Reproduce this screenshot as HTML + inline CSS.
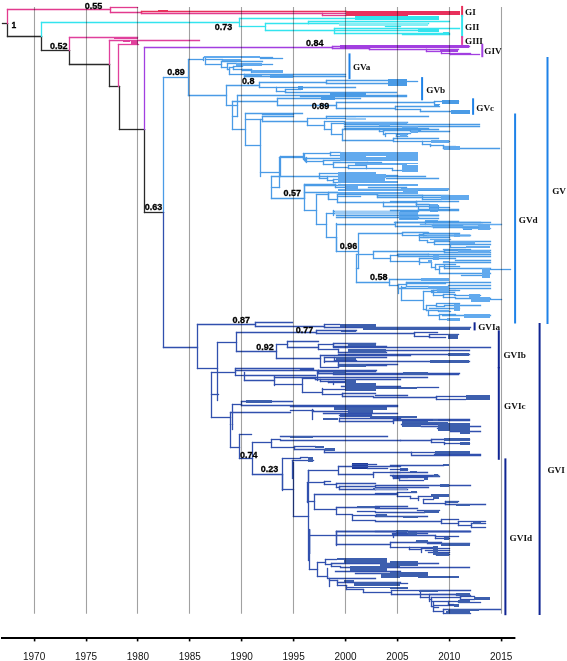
<!DOCTYPE html>
<html><head><meta charset="utf-8"><style>html,body{margin:0;padding:0;background:#fff;width:567px;height:661px;overflow:hidden}svg{display:block}</style></head>
<body><svg width="567" height="661" viewBox="0 0 567 661"><rect x="1" y="637" width="514.4" height="2" fill="#000"/>
<rect x="33.8" y="639" width="1.6" height="2.4" fill="#000"/>
<rect x="85.8" y="639" width="1.6" height="2.4" fill="#000"/>
<rect x="136.8" y="639" width="1.6" height="2.4" fill="#000"/>
<rect x="188.8" y="639" width="1.6" height="2.4" fill="#000"/>
<rect x="240.8" y="639" width="1.6" height="2.4" fill="#000"/>
<rect x="292.8" y="639" width="1.6" height="2.4" fill="#000"/>
<rect x="344.8" y="639" width="1.6" height="2.4" fill="#000"/>
<rect x="396.8" y="639" width="1.6" height="2.4" fill="#000"/>
<rect x="448.8" y="639" width="1.6" height="2.4" fill="#000"/>
<rect x="500.8" y="639" width="1.6" height="2.4" fill="#000"/>
<line x1="2.5" y1="23.5" x2="7.5" y2="23.5" stroke="#2a2a2a" stroke-width="1.3" stroke-linecap="square"/>
<line x1="7.5" y1="23.5" x2="7.5" y2="36.5" stroke="#2a2a2a" stroke-width="1.3" stroke-linecap="square"/>
<line x1="7.5" y1="36.5" x2="41.5" y2="36.5" stroke="#2a2a2a" stroke-width="1.3" stroke-linecap="square"/>
<line x1="41.5" y1="36.5" x2="41.5" y2="50.5" stroke="#2a2a2a" stroke-width="1.3" stroke-linecap="square"/>
<line x1="41.5" y1="50.5" x2="69.5" y2="50.5" stroke="#2a2a2a" stroke-width="1.3" stroke-linecap="square"/>
<line x1="69.5" y1="50.5" x2="69.5" y2="64.5" stroke="#2a2a2a" stroke-width="1.3" stroke-linecap="square"/>
<line x1="69.5" y1="64.5" x2="109.5" y2="64.5" stroke="#2a2a2a" stroke-width="1.3" stroke-linecap="square"/>
<line x1="109.5" y1="64.5" x2="109.5" y2="86.5" stroke="#2a2a2a" stroke-width="1.3" stroke-linecap="square"/>
<line x1="109.5" y1="86.5" x2="119.5" y2="86.5" stroke="#2a2a2a" stroke-width="1.3" stroke-linecap="square"/>
<line x1="119.5" y1="86.5" x2="119.5" y2="129.5" stroke="#2a2a2a" stroke-width="1.3" stroke-linecap="square"/>
<line x1="119.5" y1="129.5" x2="144.5" y2="129.5" stroke="#2a2a2a" stroke-width="1.3" stroke-linecap="square"/>
<line x1="144.5" y1="129.5" x2="144.5" y2="212.5" stroke="#2a2a2a" stroke-width="1.3" stroke-linecap="square"/>
<line x1="144.5" y1="212.5" x2="163.5" y2="212.5" stroke="#2a2a2a" stroke-width="1.3" stroke-linecap="square"/>
<line x1="7.5" y1="9.5" x2="7.5" y2="23.5" stroke="#e23b8e" stroke-width="1.3" stroke-linecap="square"/>
<line x1="7.5" y1="9.5" x2="110.5" y2="9.5" stroke="#e23b8e" stroke-width="1.3" stroke-linecap="square"/>
<line x1="110.5" y1="7.5" x2="110.5" y2="12.5" stroke="#e23b8e" stroke-width="1.3" stroke-linecap="square"/>
<line x1="110.5" y1="7.5" x2="137.5" y2="7.5" stroke="#e23b8e" stroke-width="1.3" stroke-linecap="square"/>
<line x1="110.5" y1="12.5" x2="141.5" y2="12.5" stroke="#e23b8e" stroke-width="1.3" stroke-linecap="square"/>
<rect x="121" y="7" width="6" height="1" fill="#e23b8e"/>
<line x1="141.5" y1="11.5" x2="141.5" y2="13.5" stroke="#e8305c" stroke-width="1.3" stroke-linecap="square"/>
<line x1="141.5" y1="11.5" x2="346.5" y2="11.5" stroke="#e8305c" stroke-width="1.3" stroke-linecap="square"/>
<rect x="158" y="10" width="10" height="2" fill="#e8305c"/>
<line x1="141.5" y1="13.5" x2="322.5" y2="13.5" stroke="#e23b8e" stroke-width="1.3" stroke-linecap="square"/>
<line x1="322.5" y1="13.5" x2="322.5" y2="15.5" stroke="#e23b8e" stroke-width="1.3" stroke-linecap="square"/>
<line x1="322.5" y1="13.5" x2="346.5" y2="13.5" stroke="#e23b8e" stroke-width="1.3" stroke-linecap="square"/>
<line x1="322.5" y1="15.5" x2="346.5" y2="15.5" stroke="#e23b8e" stroke-width="1.3" stroke-linecap="square"/>
<rect x="346" y="11" width="114" height="4" fill="#e8305c"/>
<rect x="346" y="15" width="62" height="1" fill="#e8305c"/>
<line x1="41.5" y1="22.5" x2="41.5" y2="36.5" stroke="#33e4ee" stroke-width="1.3" stroke-linecap="square"/>
<line x1="41.5" y1="22.5" x2="239.5" y2="22.5" stroke="#33e4ee" stroke-width="1.3" stroke-linecap="square"/>
<line x1="239.5" y1="18.5" x2="239.5" y2="26.5" stroke="#33e4ee" stroke-width="1.3" stroke-linecap="square"/>
<line x1="239.5" y1="18.5" x2="372.5" y2="18.5" stroke="#33e4ee" stroke-width="1.3" stroke-linecap="square"/>
<line x1="239.5" y1="26.5" x2="265.5" y2="26.5" stroke="#33e4ee" stroke-width="1.3" stroke-linecap="square"/>
<line x1="265.5" y1="23.5" x2="265.5" y2="30.5" stroke="#33e4ee" stroke-width="1.3" stroke-linecap="square"/>
<line x1="265.5" y1="23.5" x2="308.5" y2="23.5" stroke="#33e4ee" stroke-width="1.3" stroke-linecap="square"/>
<line x1="308.5" y1="21.5" x2="308.5" y2="23.5" stroke="#33e4ee" stroke-width="1.3" stroke-linecap="square"/>
<line x1="308.5" y1="21.5" x2="449.5" y2="21.5" stroke="#33e4ee" stroke-width="1.3" stroke-linecap="square"/>
<line x1="308.5" y1="23.5" x2="428.5" y2="23.5" stroke="#33e4ee" stroke-width="1.3" stroke-linecap="square"/>
<line x1="265.5" y1="30.5" x2="334.5" y2="30.5" stroke="#33e4ee" stroke-width="1.3" stroke-linecap="square"/>
<line x1="334.5" y1="28.5" x2="334.5" y2="33.5" stroke="#33e4ee" stroke-width="1.3" stroke-linecap="square"/>
<line x1="334.5" y1="28.5" x2="459.5" y2="28.5" stroke="#33e4ee" stroke-width="1.3" stroke-linecap="square"/>
<line x1="334.5" y1="30.5" x2="417.5" y2="30.5" stroke="#33e4ee" stroke-width="1.3" stroke-linecap="square"/>
<line x1="334.5" y1="33.5" x2="449.5" y2="33.5" stroke="#33e4ee" stroke-width="1.3" stroke-linecap="square"/>
<rect x="355" y="16" width="84" height="4" fill="#33e4ee"/>
<rect x="418" y="29" width="21" height="3" fill="#33e4ee"/>
<rect x="443" y="32" width="6" height="3" fill="#33e4ee"/>
<line x1="402.5" y1="34.5" x2="449.5" y2="34.5" stroke="#33e4ee" stroke-width="1.3" stroke-linecap="square"/>
<line x1="385.5" y1="26.5" x2="400.5" y2="26.5" stroke="#33e4ee" stroke-width="1.3" stroke-linecap="square"/>
<rect x="339" y="23" width="89" height="3" fill="#86eef4"/>
<line x1="69.5" y1="37.5" x2="69.5" y2="50.5" stroke="#e0409c" stroke-width="1.3" stroke-linecap="square"/>
<line x1="69.5" y1="37.5" x2="137.5" y2="37.5" stroke="#e0409c" stroke-width="1.3" stroke-linecap="square"/>
<rect x="114" y="37" width="24" height="2" fill="#e0409c"/>
<line x1="109.5" y1="40.5" x2="109.5" y2="64.5" stroke="#e0409c" stroke-width="1.3" stroke-linecap="square"/>
<line x1="109.5" y1="40.5" x2="199.5" y2="40.5" stroke="#e0409c" stroke-width="1.3" stroke-linecap="square"/>
<rect x="123" y="40" width="7" height="2" fill="#e0409c"/>
<rect x="131" y="40" width="7" height="4" fill="#e0409c"/>
<line x1="118.5" y1="44.5" x2="118.5" y2="86.5" stroke="#e0409c" stroke-width="1.3" stroke-linecap="square"/>
<line x1="118.5" y1="44.5" x2="138.5" y2="44.5" stroke="#e0409c" stroke-width="1.3" stroke-linecap="square"/>
<line x1="144.5" y1="47.5" x2="144.5" y2="129.5" stroke="#a23fe0" stroke-width="1.3" stroke-linecap="square"/>
<line x1="144.5" y1="47.5" x2="332.5" y2="47.5" stroke="#a23fe0" stroke-width="1.3" stroke-linecap="square"/>
<line x1="332.5" y1="46.5" x2="332.5" y2="48.5" stroke="#a23fe0" stroke-width="1.3" stroke-linecap="square"/>
<line x1="332.5" y1="46.5" x2="469.5" y2="46.5" stroke="#a23fe0" stroke-width="1.3" stroke-linecap="square"/>
<line x1="332.5" y1="48.5" x2="369.5" y2="48.5" stroke="#a23fe0" stroke-width="1.3" stroke-linecap="square"/>
<rect x="340" y="45" width="129" height="3" fill="#a23fe0"/>
<line x1="369.5" y1="48.5" x2="369.5" y2="49.5" stroke="#a23fe0" stroke-width="1.3" stroke-linecap="square"/>
<line x1="369.5" y1="49.5" x2="426.5" y2="49.5" stroke="#a23fe0" stroke-width="1.3" stroke-linecap="square"/>
<line x1="426.5" y1="49.5" x2="426.5" y2="51.5" stroke="#a23fe0" stroke-width="1.3" stroke-linecap="square"/>
<line x1="426.5" y1="49.5" x2="458.5" y2="49.5" stroke="#a23fe0" stroke-width="1.3" stroke-linecap="square"/>
<line x1="426.5" y1="51.5" x2="441.5" y2="51.5" stroke="#a23fe0" stroke-width="1.3" stroke-linecap="square"/>
<rect x="440" y="49" width="18" height="3" fill="#a23fe0"/>
<line x1="441.5" y1="51.5" x2="441.5" y2="53.5" stroke="#a23fe0" stroke-width="1.3" stroke-linecap="square"/>
<line x1="441.5" y1="53.5" x2="450.5" y2="53.5" stroke="#a23fe0" stroke-width="1.3" stroke-linecap="square"/>
<line x1="450.5" y1="53.5" x2="450.5" y2="54.5" stroke="#a23fe0" stroke-width="1.3" stroke-linecap="square"/>
<line x1="450.5" y1="53.5" x2="470.5" y2="53.5" stroke="#a23fe0" stroke-width="1.3" stroke-linecap="square"/>
<line x1="450.5" y1="54.5" x2="479.5" y2="54.5" stroke="#a23fe0" stroke-width="1.3" stroke-linecap="square"/>
<rect x="451" y="54" width="29" height="1" fill="#a23fe0"/>
<line x1="462.1" y1="6.9" x2="462.1" y2="15.9" stroke="#e8305c" stroke-width="2.0" stroke-linecap="square"/>
<line x1="462.1" y1="15.9" x2="462.1" y2="37.0" stroke="#33e4ee" stroke-width="2.0" stroke-linecap="square"/>
<line x1="462.1" y1="37.0" x2="462.1" y2="43.9" stroke="#e0409c" stroke-width="2.0" stroke-linecap="square"/>
<line x1="482.3" y1="44.8" x2="482.3" y2="56.2" stroke="#a23fe0" stroke-width="2.0" stroke-linecap="square"/>
<line x1="349.5" y1="54.4" x2="349.5" y2="78.1" stroke="#1e82e8" stroke-width="2.0" stroke-linecap="square"/>
<line x1="422.1" y1="78.1" x2="422.1" y2="99.3" stroke="#1e82e8" stroke-width="2.0" stroke-linecap="square"/>
<line x1="473.1" y1="99.3" x2="473.1" y2="113.8" stroke="#1e82e8" stroke-width="2.0" stroke-linecap="square"/>
<line x1="515.1" y1="114.5" x2="515.1" y2="322.5" stroke="#1e82e8" stroke-width="2.0" stroke-linecap="square"/>
<line x1="547.5" y1="58.1" x2="547.5" y2="323.0" stroke="#1e82e8" stroke-width="2.0" stroke-linecap="square"/>
<line x1="474.6" y1="323.3" x2="474.6" y2="329.4" stroke="#102593" stroke-width="2.0" stroke-linecap="square"/>
<line x1="498.8" y1="331.3" x2="498.8" y2="367.3" stroke="#102593" stroke-width="2.0" stroke-linecap="square"/>
<line x1="498.8" y1="368.0" x2="498.8" y2="458.8" stroke="#102593" stroke-width="2.0" stroke-linecap="square"/>
<line x1="505.4" y1="459.4" x2="505.4" y2="614.2" stroke="#102593" stroke-width="2.0" stroke-linecap="square"/>
<line x1="539.6" y1="324.0" x2="539.6" y2="614.0" stroke="#102593" stroke-width="2.0" stroke-linecap="square"/>
<line x1="163.5" y1="77.5" x2="163.5" y2="212.5" stroke="#4a9be6" stroke-width="1.3" stroke-linecap="square"/>
<line x1="163.5" y1="77.5" x2="188.5" y2="77.5" stroke="#4a9be6" stroke-width="1.3" stroke-linecap="square"/>
<line x1="188.5" y1="59.5" x2="188.5" y2="95.5" stroke="#4a9be6" stroke-width="1.3" stroke-linecap="square"/>
<line x1="188.5" y1="59.5" x2="203.5" y2="59.5" stroke="#4a9be6" stroke-width="1.3" stroke-linecap="square"/>
<line x1="203.5" y1="57.5" x2="203.5" y2="60.5" stroke="#4a9be6" stroke-width="1.3" stroke-linecap="square"/>
<rect x="204" y="56" width="56" height="2" fill="#62aaee"/>
<rect x="222" y="59" width="19" height="2" fill="#62aaee"/>
<line x1="260.5" y1="57.5" x2="272.5" y2="57.5" stroke="#4a9be6" stroke-width="1.3" stroke-linecap="square"/>
<line x1="260.5" y1="58.5" x2="282.5" y2="58.5" stroke="#4a9be6" stroke-width="1.3" stroke-linecap="square"/>
<line x1="205.5" y1="58.5" x2="205.5" y2="64.5" stroke="#4a9be6" stroke-width="1.3" stroke-linecap="square"/>
<line x1="205.5" y1="59.5" x2="222.5" y2="59.5" stroke="#4a9be6" stroke-width="1.3" stroke-linecap="square"/>
<line x1="205.5" y1="64.5" x2="221.5" y2="64.5" stroke="#4a9be6" stroke-width="1.3" stroke-linecap="square"/>
<line x1="221.5" y1="61.5" x2="221.5" y2="67.5" stroke="#4a9be6" stroke-width="1.3" stroke-linecap="square"/>
<line x1="221.5" y1="61.5" x2="262.5" y2="61.5" stroke="#4a9be6" stroke-width="1.3" stroke-linecap="square"/>
<line x1="221.5" y1="67.5" x2="227.5" y2="67.5" stroke="#4a9be6" stroke-width="1.3" stroke-linecap="square"/>
<line x1="227.5" y1="63.5" x2="227.5" y2="69.5" stroke="#4a9be6" stroke-width="1.3" stroke-linecap="square"/>
<line x1="227.5" y1="63.5" x2="236.5" y2="63.5" stroke="#4a9be6" stroke-width="1.3" stroke-linecap="square"/>
<rect x="236" y="63" width="26" height="3" fill="#62aaee"/>
<line x1="262.5" y1="64.5" x2="272.5" y2="64.5" stroke="#4a9be6" stroke-width="1.3" stroke-linecap="square"/>
<line x1="227.5" y1="69.5" x2="229.5" y2="69.5" stroke="#4a9be6" stroke-width="1.3" stroke-linecap="square"/>
<line x1="229.5" y1="67.5" x2="229.5" y2="74.5" stroke="#4a9be6" stroke-width="1.3" stroke-linecap="square"/>
<line x1="229.5" y1="67.5" x2="233.5" y2="67.5" stroke="#4a9be6" stroke-width="1.3" stroke-linecap="square"/>
<line x1="233.5" y1="66.5" x2="233.5" y2="69.5" stroke="#4a9be6" stroke-width="1.3" stroke-linecap="square"/>
<line x1="233.5" y1="66.5" x2="242.5" y2="66.5" stroke="#4a9be6" stroke-width="1.3" stroke-linecap="square"/>
<line x1="233.5" y1="69.5" x2="242.5" y2="69.5" stroke="#4a9be6" stroke-width="1.3" stroke-linecap="square"/>
<line x1="242.5" y1="69.5" x2="242.5" y2="70.5" stroke="#4a9be6" stroke-width="1.3" stroke-linecap="square"/>
<line x1="242.5" y1="69.5" x2="251.5" y2="69.5" stroke="#4a9be6" stroke-width="1.3" stroke-linecap="square"/>
<line x1="242.5" y1="70.5" x2="251.5" y2="70.5" stroke="#4a9be6" stroke-width="1.3" stroke-linecap="square"/>
<line x1="251.5" y1="69.5" x2="251.5" y2="72.5" stroke="#4a9be6" stroke-width="1.3" stroke-linecap="square"/>
<rect x="252" y="70" width="31" height="3" fill="#62aaee"/>
<line x1="229.5" y1="74.5" x2="244.5" y2="74.5" stroke="#4a9be6" stroke-width="1.3" stroke-linecap="square"/>
<line x1="244.5" y1="74.5" x2="244.5" y2="77.5" stroke="#4a9be6" stroke-width="1.3" stroke-linecap="square"/>
<rect x="270" y="75" width="23" height="3" fill="#62aaee"/>
<rect x="244" y="75" width="18" height="1" fill="#62aaee"/>
<line x1="244.5" y1="74.5" x2="345.5" y2="74.5" stroke="#4a9be6" stroke-width="1.3" stroke-linecap="square"/>
<line x1="244.5" y1="76.5" x2="345.5" y2="76.5" stroke="#4a9be6" stroke-width="1.3" stroke-linecap="square"/>
<line x1="188.5" y1="95.5" x2="226.5" y2="95.5" stroke="#4a9be6" stroke-width="1.3" stroke-linecap="square"/>
<line x1="226.5" y1="85.5" x2="226.5" y2="105.5" stroke="#4a9be6" stroke-width="1.3" stroke-linecap="square"/>
<line x1="226.5" y1="85.5" x2="259.5" y2="85.5" stroke="#4a9be6" stroke-width="1.3" stroke-linecap="square"/>
<line x1="259.5" y1="82.5" x2="259.5" y2="87.5" stroke="#4a9be6" stroke-width="1.3" stroke-linecap="square"/>
<line x1="259.5" y1="82.5" x2="326.5" y2="82.5" stroke="#4a9be6" stroke-width="1.3" stroke-linecap="square"/>
<line x1="326.5" y1="80.5" x2="326.5" y2="83.5" stroke="#4a9be6" stroke-width="1.3" stroke-linecap="square"/>
<line x1="326.5" y1="80.5" x2="387.5" y2="80.5" stroke="#4a9be6" stroke-width="1.3" stroke-linecap="square"/>
<line x1="326.5" y1="83.5" x2="387.5" y2="83.5" stroke="#4a9be6" stroke-width="1.3" stroke-linecap="square"/>
<rect x="388" y="79" width="19" height="7" fill="#4a9be6"/>
<line x1="407.5" y1="81.5" x2="417.5" y2="81.5" stroke="#4a9be6" stroke-width="1.3" stroke-linecap="square"/>
<line x1="259.5" y1="87.5" x2="276.5" y2="87.5" stroke="#4a9be6" stroke-width="1.3" stroke-linecap="square"/>
<line x1="276.5" y1="87.5" x2="276.5" y2="91.5" stroke="#4a9be6" stroke-width="1.3" stroke-linecap="square"/>
<line x1="276.5" y1="87.5" x2="297.5" y2="87.5" stroke="#4a9be6" stroke-width="1.3" stroke-linecap="square"/>
<rect x="298" y="86" width="5" height="4" fill="#4a9be6"/>
<line x1="303.5" y1="87.5" x2="355.5" y2="87.5" stroke="#4a9be6" stroke-width="1.3" stroke-linecap="square"/>
<line x1="276.5" y1="91.5" x2="285.5" y2="91.5" stroke="#4a9be6" stroke-width="1.3" stroke-linecap="square"/>
<line x1="285.5" y1="89.5" x2="285.5" y2="92.5" stroke="#4a9be6" stroke-width="1.3" stroke-linecap="square"/>
<line x1="285.5" y1="89.5" x2="300.5" y2="89.5" stroke="#4a9be6" stroke-width="1.3" stroke-linecap="square"/>
<line x1="285.5" y1="92.5" x2="396.5" y2="92.5" stroke="#4a9be6" stroke-width="1.3" stroke-linecap="square"/>
<rect x="330" y="92" width="36" height="5" fill="#4a9be6"/>
<line x1="300.5" y1="96.5" x2="406.5" y2="96.5" stroke="#4a9be6" stroke-width="1.3" stroke-linecap="square"/>
<line x1="232.5" y1="101.5" x2="232.5" y2="129.5" stroke="#4a9be6" stroke-width="1.3" stroke-linecap="square"/>
<line x1="237.5" y1="95.5" x2="237.5" y2="116.5" stroke="#4a9be6" stroke-width="1.3" stroke-linecap="square"/>
<line x1="232.5" y1="116.5" x2="237.5" y2="116.5" stroke="#4a9be6" stroke-width="1.3" stroke-linecap="square"/>
<line x1="226.5" y1="105.5" x2="237.5" y2="105.5" stroke="#4a9be6" stroke-width="1.3" stroke-linecap="square"/>
<line x1="237.5" y1="95.5" x2="406.5" y2="95.5" stroke="#4a9be6" stroke-width="1.3" stroke-linecap="square"/>
<line x1="232.5" y1="101.5" x2="277.5" y2="101.5" stroke="#4a9be6" stroke-width="1.3" stroke-linecap="square"/>
<line x1="277.5" y1="98.5" x2="277.5" y2="105.5" stroke="#4a9be6" stroke-width="1.3" stroke-linecap="square"/>
<line x1="277.5" y1="98.5" x2="360.5" y2="98.5" stroke="#4a9be6" stroke-width="1.3" stroke-linecap="square"/>
<rect x="321" y="97" width="14" height="3" fill="#4a9be6"/>
<line x1="277.5" y1="105.5" x2="336.5" y2="105.5" stroke="#4a9be6" stroke-width="1.3" stroke-linecap="square"/>
<line x1="336.5" y1="102.5" x2="336.5" y2="108.5" stroke="#4a9be6" stroke-width="1.3" stroke-linecap="square"/>
<line x1="336.5" y1="102.5" x2="434.5" y2="102.5" stroke="#4a9be6" stroke-width="1.3" stroke-linecap="square"/>
<line x1="434.5" y1="101.5" x2="434.5" y2="104.5" stroke="#4a9be6" stroke-width="1.3" stroke-linecap="square"/>
<line x1="434.5" y1="101.5" x2="458.5" y2="101.5" stroke="#4a9be6" stroke-width="1.3" stroke-linecap="square"/>
<rect x="442" y="100" width="17" height="4" fill="#4a9be6"/>
<rect x="434" y="104" width="6" height="1" fill="#4a9be6"/>
<line x1="336.5" y1="108.5" x2="395.5" y2="108.5" stroke="#4a9be6" stroke-width="1.3" stroke-linecap="square"/>
<line x1="395.5" y1="106.5" x2="395.5" y2="109.5" stroke="#4a9be6" stroke-width="1.3" stroke-linecap="square"/>
<line x1="395.5" y1="106.5" x2="439.5" y2="106.5" stroke="#4a9be6" stroke-width="1.3" stroke-linecap="square"/>
<rect x="434" y="105" width="5" height="2" fill="#4a9be6"/>
<line x1="395.5" y1="109.5" x2="420.5" y2="109.5" stroke="#4a9be6" stroke-width="1.3" stroke-linecap="square"/>
<line x1="420.5" y1="109.5" x2="420.5" y2="111.5" stroke="#4a9be6" stroke-width="1.3" stroke-linecap="square"/>
<line x1="420.5" y1="111.5" x2="451.5" y2="111.5" stroke="#4a9be6" stroke-width="1.3" stroke-linecap="square"/>
<rect x="451" y="110" width="19" height="4" fill="#4a9be6"/>
<line x1="232.5" y1="129.5" x2="245.5" y2="129.5" stroke="#4a9be6" stroke-width="1.3" stroke-linecap="square"/>
<line x1="245.5" y1="113.5" x2="245.5" y2="145.5" stroke="#4a9be6" stroke-width="1.3" stroke-linecap="square"/>
<line x1="245.5" y1="113.5" x2="302.5" y2="113.5" stroke="#4a9be6" stroke-width="1.3" stroke-linecap="square"/>
<line x1="262.5" y1="114.5" x2="293.5" y2="114.5" stroke="#4a9be6" stroke-width="1.3" stroke-linecap="square"/>
<line x1="262.5" y1="116.5" x2="262.5" y2="121.5" stroke="#4a9be6" stroke-width="1.3" stroke-linecap="square"/>
<line x1="262.5" y1="116.5" x2="293.5" y2="116.5" stroke="#4a9be6" stroke-width="1.3" stroke-linecap="square"/>
<line x1="245.5" y1="119.5" x2="262.5" y2="119.5" stroke="#4a9be6" stroke-width="1.3" stroke-linecap="square"/>
<line x1="262.5" y1="121.5" x2="307.5" y2="121.5" stroke="#4a9be6" stroke-width="1.3" stroke-linecap="square"/>
<line x1="307.5" y1="118.5" x2="307.5" y2="125.5" stroke="#4a9be6" stroke-width="1.3" stroke-linecap="square"/>
<line x1="307.5" y1="118.5" x2="326.5" y2="118.5" stroke="#4a9be6" stroke-width="1.3" stroke-linecap="square"/>
<line x1="326.5" y1="116.5" x2="326.5" y2="118.5" stroke="#4a9be6" stroke-width="1.3" stroke-linecap="square"/>
<line x1="326.5" y1="116.5" x2="428.5" y2="116.5" stroke="#4a9be6" stroke-width="1.3" stroke-linecap="square"/>
<line x1="326.5" y1="118.5" x2="355.5" y2="118.5" stroke="#4a9be6" stroke-width="1.3" stroke-linecap="square"/>
<line x1="307.5" y1="125.5" x2="324.5" y2="125.5" stroke="#4a9be6" stroke-width="1.3" stroke-linecap="square"/>
<line x1="324.5" y1="121.5" x2="324.5" y2="129.5" stroke="#4a9be6" stroke-width="1.3" stroke-linecap="square"/>
<line x1="324.5" y1="121.5" x2="344.5" y2="121.5" stroke="#4a9be6" stroke-width="1.3" stroke-linecap="square"/>
<line x1="344.5" y1="122.5" x2="407.5" y2="122.5" stroke="#4a9be6" stroke-width="1.3" stroke-linecap="square"/>
<line x1="344.5" y1="124.5" x2="479.5" y2="124.5" stroke="#4a9be6" stroke-width="1.3" stroke-linecap="square"/>
<line x1="324.5" y1="129.5" x2="331.5" y2="129.5" stroke="#4a9be6" stroke-width="1.3" stroke-linecap="square"/>
<line x1="331.5" y1="123.5" x2="331.5" y2="134.5" stroke="#4a9be6" stroke-width="1.3" stroke-linecap="square"/>
<line x1="331.5" y1="123.5" x2="344.5" y2="123.5" stroke="#4a9be6" stroke-width="1.3" stroke-linecap="square"/>
<line x1="344.5" y1="126.5" x2="479.5" y2="126.5" stroke="#4a9be6" stroke-width="1.3" stroke-linecap="square"/>
<line x1="344.5" y1="128.5" x2="428.5" y2="128.5" stroke="#4a9be6" stroke-width="1.3" stroke-linecap="square"/>
<line x1="331.5" y1="134.5" x2="342.5" y2="134.5" stroke="#4a9be6" stroke-width="1.3" stroke-linecap="square"/>
<line x1="342.5" y1="129.5" x2="342.5" y2="140.5" stroke="#4a9be6" stroke-width="1.3" stroke-linecap="square"/>
<line x1="342.5" y1="129.5" x2="379.5" y2="129.5" stroke="#4a9be6" stroke-width="1.3" stroke-linecap="square"/>
<line x1="379.5" y1="128.5" x2="379.5" y2="131.5" stroke="#4a9be6" stroke-width="1.3" stroke-linecap="square"/>
<line x1="379.5" y1="129.5" x2="438.5" y2="129.5" stroke="#4a9be6" stroke-width="1.3" stroke-linecap="square"/>
<line x1="379.5" y1="131.5" x2="383.5" y2="131.5" stroke="#4a9be6" stroke-width="1.3" stroke-linecap="square"/>
<line x1="383.5" y1="130.5" x2="383.5" y2="134.5" stroke="#4a9be6" stroke-width="1.3" stroke-linecap="square"/>
<line x1="383.5" y1="130.5" x2="420.5" y2="130.5" stroke="#4a9be6" stroke-width="1.3" stroke-linecap="square"/>
<line x1="383.5" y1="134.5" x2="385.5" y2="134.5" stroke="#4a9be6" stroke-width="1.3" stroke-linecap="square"/>
<line x1="385.5" y1="133.5" x2="385.5" y2="136.5" stroke="#4a9be6" stroke-width="1.3" stroke-linecap="square"/>
<line x1="385.5" y1="133.5" x2="410.5" y2="133.5" stroke="#4a9be6" stroke-width="1.3" stroke-linecap="square"/>
<line x1="410.5" y1="131.5" x2="449.5" y2="131.5" stroke="#4a9be6" stroke-width="1.3" stroke-linecap="square"/>
<line x1="396.5" y1="136.5" x2="407.5" y2="136.5" stroke="#4a9be6" stroke-width="1.3" stroke-linecap="square"/>
<line x1="396.5" y1="134.5" x2="396.5" y2="136.5" stroke="#4a9be6" stroke-width="1.3" stroke-linecap="square"/>
<line x1="396.5" y1="134.5" x2="407.5" y2="134.5" stroke="#4a9be6" stroke-width="1.3" stroke-linecap="square"/>
<line x1="342.5" y1="140.5" x2="393.5" y2="140.5" stroke="#4a9be6" stroke-width="1.3" stroke-linecap="square"/>
<line x1="393.5" y1="138.5" x2="393.5" y2="141.5" stroke="#4a9be6" stroke-width="1.3" stroke-linecap="square"/>
<line x1="393.5" y1="138.5" x2="438.5" y2="138.5" stroke="#4a9be6" stroke-width="1.3" stroke-linecap="square"/>
<line x1="393.5" y1="141.5" x2="422.5" y2="141.5" stroke="#4a9be6" stroke-width="1.3" stroke-linecap="square"/>
<line x1="422.5" y1="141.5" x2="422.5" y2="144.5" stroke="#4a9be6" stroke-width="1.3" stroke-linecap="square"/>
<line x1="422.5" y1="141.5" x2="449.5" y2="141.5" stroke="#4a9be6" stroke-width="1.3" stroke-linecap="square"/>
<line x1="422.5" y1="144.5" x2="430.5" y2="144.5" stroke="#4a9be6" stroke-width="1.3" stroke-linecap="square"/>
<line x1="430.5" y1="144.5" x2="430.5" y2="146.5" stroke="#4a9be6" stroke-width="1.3" stroke-linecap="square"/>
<line x1="430.5" y1="145.5" x2="443.5" y2="145.5" stroke="#4a9be6" stroke-width="1.3" stroke-linecap="square"/>
<line x1="443.5" y1="145.5" x2="443.5" y2="148.5" stroke="#4a9be6" stroke-width="1.3" stroke-linecap="square"/>
<line x1="443.5" y1="148.5" x2="499.5" y2="148.5" stroke="#4a9be6" stroke-width="1.3" stroke-linecap="square"/>
<line x1="443.5" y1="146.5" x2="455.5" y2="146.5" stroke="#4a9be6" stroke-width="1.3" stroke-linecap="square"/>
<rect x="346" y="118" width="20" height="2" fill="#9ccbf5"/>
<rect x="344" y="122" width="63" height="2" fill="#62aaee"/>
<rect x="379" y="124" width="11" height="2" fill="#62aaee"/>
<rect x="402" y="126" width="16" height="2" fill="#62aaee"/>
<rect x="411" y="130" width="7" height="3" fill="#62aaee"/>
<rect x="400" y="134" width="7" height="3" fill="#62aaee"/>
<rect x="431" y="140" width="18" height="3" fill="#62aaee"/>
<rect x="444" y="146" width="16" height="4" fill="#62aaee"/>
<line x1="245.5" y1="145.5" x2="260.5" y2="145.5" stroke="#4a9be6" stroke-width="1.3" stroke-linecap="square"/>
<line x1="260.5" y1="119.5" x2="260.5" y2="176.5" stroke="#4a9be6" stroke-width="1.3" stroke-linecap="square"/>
<line x1="280.5" y1="156.5" x2="280.5" y2="176.5" stroke="#4a9be6" stroke-width="1.3" stroke-linecap="square"/>
<line x1="280.5" y1="156.5" x2="303.5" y2="156.5" stroke="#4a9be6" stroke-width="1.3" stroke-linecap="square"/>
<line x1="260.5" y1="172.5" x2="279.5" y2="172.5" stroke="#4a9be6" stroke-width="1.3" stroke-linecap="square"/>
<line x1="279.5" y1="157.5" x2="279.5" y2="187.5" stroke="#4a9be6" stroke-width="1.3" stroke-linecap="square"/>
<line x1="279.5" y1="157.5" x2="304.5" y2="157.5" stroke="#4a9be6" stroke-width="1.3" stroke-linecap="square"/>
<line x1="271.5" y1="187.5" x2="279.5" y2="187.5" stroke="#4a9be6" stroke-width="1.3" stroke-linecap="square"/>
<line x1="271.5" y1="176.5" x2="271.5" y2="198.5" stroke="#4a9be6" stroke-width="1.3" stroke-linecap="square"/>
<line x1="271.5" y1="176.5" x2="319.5" y2="176.5" stroke="#4a9be6" stroke-width="1.3" stroke-linecap="square"/>
<line x1="271.5" y1="198.5" x2="304.5" y2="198.5" stroke="#4a9be6" stroke-width="1.3" stroke-linecap="square"/>
<line x1="304.5" y1="154.5" x2="304.5" y2="160.5" stroke="#4a9be6" stroke-width="1.3" stroke-linecap="square"/>
<line x1="306.5" y1="157.5" x2="306.5" y2="162.5" stroke="#4a9be6" stroke-width="1.3" stroke-linecap="square"/>
<line x1="349.5" y1="189.5" x2="448.5" y2="189.5" stroke="#4a9be6" stroke-width="1.3" stroke-linecap="square"/>
<rect x="404" y="188" width="44" height="3" fill="#4a9be6"/>
<line x1="349.5" y1="185.5" x2="349.5" y2="191.5" stroke="#4a9be6" stroke-width="1.3" stroke-linecap="square"/>
<line x1="349.5" y1="191.5" x2="404.5" y2="191.5" stroke="#4a9be6" stroke-width="1.3" stroke-linecap="square"/>
<line x1="304.5" y1="185.5" x2="304.5" y2="210.5" stroke="#4a9be6" stroke-width="1.3" stroke-linecap="square"/>
<line x1="304.5" y1="185.5" x2="349.5" y2="185.5" stroke="#4a9be6" stroke-width="1.3" stroke-linecap="square"/>
<line x1="304.5" y1="210.5" x2="316.5" y2="210.5" stroke="#4a9be6" stroke-width="1.3" stroke-linecap="square"/>
<line x1="316.5" y1="194.5" x2="316.5" y2="224.5" stroke="#4a9be6" stroke-width="1.3" stroke-linecap="square"/>
<line x1="316.5" y1="194.5" x2="328.5" y2="194.5" stroke="#4a9be6" stroke-width="1.3" stroke-linecap="square"/>
<line x1="328.5" y1="192.5" x2="328.5" y2="199.5" stroke="#4a9be6" stroke-width="1.3" stroke-linecap="square"/>
<line x1="328.5" y1="192.5" x2="351.5" y2="192.5" stroke="#4a9be6" stroke-width="1.3" stroke-linecap="square"/>
<line x1="328.5" y1="199.5" x2="337.5" y2="199.5" stroke="#4a9be6" stroke-width="1.3" stroke-linecap="square"/>
<line x1="337.5" y1="194.5" x2="337.5" y2="202.5" stroke="#4a9be6" stroke-width="1.3" stroke-linecap="square"/>
<line x1="337.5" y1="194.5" x2="377.5" y2="194.5" stroke="#4a9be6" stroke-width="1.3" stroke-linecap="square"/>
<line x1="377.5" y1="194.5" x2="377.5" y2="197.5" stroke="#4a9be6" stroke-width="1.3" stroke-linecap="square"/>
<line x1="377.5" y1="195.5" x2="448.5" y2="195.5" stroke="#4a9be6" stroke-width="1.3" stroke-linecap="square"/>
<line x1="422.5" y1="195.5" x2="422.5" y2="199.5" stroke="#4a9be6" stroke-width="1.3" stroke-linecap="square"/>
<line x1="422.5" y1="199.5" x2="441.5" y2="199.5" stroke="#4a9be6" stroke-width="1.3" stroke-linecap="square"/>
<line x1="377.5" y1="197.5" x2="453.5" y2="197.5" stroke="#4a9be6" stroke-width="1.3" stroke-linecap="square"/>
<rect x="454" y="197" width="15" height="3" fill="#4a9be6"/>
<line x1="337.5" y1="202.5" x2="383.5" y2="202.5" stroke="#4a9be6" stroke-width="1.3" stroke-linecap="square"/>
<line x1="383.5" y1="202.5" x2="383.5" y2="206.5" stroke="#4a9be6" stroke-width="1.3" stroke-linecap="square"/>
<line x1="383.5" y1="202.5" x2="416.5" y2="202.5" stroke="#4a9be6" stroke-width="1.3" stroke-linecap="square"/>
<line x1="416.5" y1="202.5" x2="416.5" y2="206.5" stroke="#4a9be6" stroke-width="1.3" stroke-linecap="square"/>
<line x1="416.5" y1="204.5" x2="428.5" y2="204.5" stroke="#4a9be6" stroke-width="1.3" stroke-linecap="square"/>
<rect x="429" y="205" width="10" height="6" fill="#4a9be6"/>
<line x1="383.5" y1="206.5" x2="438.5" y2="206.5" stroke="#4a9be6" stroke-width="1.3" stroke-linecap="square"/>
<line x1="418.5" y1="209.5" x2="458.5" y2="209.5" stroke="#4a9be6" stroke-width="1.3" stroke-linecap="square"/>
<line x1="418.5" y1="206.5" x2="418.5" y2="209.5" stroke="#4a9be6" stroke-width="1.3" stroke-linecap="square"/>
<line x1="316.5" y1="224.5" x2="326.5" y2="224.5" stroke="#4a9be6" stroke-width="1.3" stroke-linecap="square"/>
<line x1="326.5" y1="213.5" x2="326.5" y2="237.5" stroke="#4a9be6" stroke-width="1.3" stroke-linecap="square"/>
<line x1="326.5" y1="213.5" x2="333.5" y2="213.5" stroke="#4a9be6" stroke-width="1.3" stroke-linecap="square"/>
<line x1="333.5" y1="210.5" x2="333.5" y2="215.5" stroke="#4a9be6" stroke-width="1.3" stroke-linecap="square"/>
<line x1="333.5" y1="211.5" x2="418.5" y2="211.5" stroke="#4a9be6" stroke-width="1.3" stroke-linecap="square"/>
<line x1="333.5" y1="213.5" x2="400.5" y2="213.5" stroke="#4a9be6" stroke-width="1.3" stroke-linecap="square"/>
<line x1="336.5" y1="215.5" x2="438.5" y2="215.5" stroke="#4a9be6" stroke-width="1.3" stroke-linecap="square"/>
<line x1="336.5" y1="217.5" x2="418.5" y2="217.5" stroke="#4a9be6" stroke-width="1.3" stroke-linecap="square"/>
<rect x="335" y="211" width="65" height="3" fill="#9ccbf5"/>
<rect x="399" y="212" width="19" height="8" fill="#62aaee"/>
<line x1="326.5" y1="237.5" x2="336.5" y2="237.5" stroke="#4a9be6" stroke-width="1.3" stroke-linecap="square"/>
<line x1="336.5" y1="223.5" x2="336.5" y2="251.5" stroke="#4a9be6" stroke-width="1.3" stroke-linecap="square"/>
<line x1="336.5" y1="224.5" x2="395.5" y2="224.5" stroke="#4a9be6" stroke-width="1.3" stroke-linecap="square"/>
<line x1="395.5" y1="222.5" x2="395.5" y2="226.5" stroke="#4a9be6" stroke-width="1.3" stroke-linecap="square"/>
<line x1="395.5" y1="222.5" x2="480.5" y2="222.5" stroke="#4a9be6" stroke-width="1.3" stroke-linecap="square"/>
<line x1="425.5" y1="222.5" x2="425.5" y2="224.5" stroke="#4a9be6" stroke-width="1.3" stroke-linecap="square"/>
<line x1="395.5" y1="226.5" x2="433.5" y2="226.5" stroke="#4a9be6" stroke-width="1.3" stroke-linecap="square"/>
<line x1="433.5" y1="224.5" x2="433.5" y2="227.5" stroke="#4a9be6" stroke-width="1.3" stroke-linecap="square"/>
<line x1="433.5" y1="224.5" x2="482.5" y2="224.5" stroke="#4a9be6" stroke-width="1.3" stroke-linecap="square"/>
<line x1="433.5" y1="227.5" x2="463.5" y2="227.5" stroke="#4a9be6" stroke-width="1.3" stroke-linecap="square"/>
<rect x="463" y="226" width="9" height="4" fill="#4a9be6"/>
<line x1="400.5" y1="218.5" x2="438.5" y2="218.5" stroke="#4a9be6" stroke-width="1.3" stroke-linecap="square"/>
<line x1="358.5" y1="233.5" x2="402.5" y2="233.5" stroke="#4a9be6" stroke-width="1.3" stroke-linecap="square"/>
<line x1="402.5" y1="232.5" x2="402.5" y2="235.5" stroke="#4a9be6" stroke-width="1.3" stroke-linecap="square"/>
<line x1="402.5" y1="232.5" x2="428.5" y2="232.5" stroke="#4a9be6" stroke-width="1.3" stroke-linecap="square"/>
<line x1="402.5" y1="235.5" x2="419.5" y2="235.5" stroke="#4a9be6" stroke-width="1.3" stroke-linecap="square"/>
<line x1="419.5" y1="234.5" x2="419.5" y2="240.5" stroke="#4a9be6" stroke-width="1.3" stroke-linecap="square"/>
<line x1="419.5" y1="234.5" x2="423.5" y2="234.5" stroke="#4a9be6" stroke-width="1.3" stroke-linecap="square"/>
<line x1="423.5" y1="233.5" x2="423.5" y2="235.5" stroke="#4a9be6" stroke-width="1.3" stroke-linecap="square"/>
<line x1="423.5" y1="233.5" x2="459.5" y2="233.5" stroke="#4a9be6" stroke-width="1.3" stroke-linecap="square"/>
<line x1="423.5" y1="235.5" x2="469.5" y2="235.5" stroke="#4a9be6" stroke-width="1.3" stroke-linecap="square"/>
<line x1="421.5" y1="237.5" x2="428.5" y2="237.5" stroke="#4a9be6" stroke-width="1.3" stroke-linecap="square"/>
<line x1="419.5" y1="240.5" x2="427.5" y2="240.5" stroke="#4a9be6" stroke-width="1.3" stroke-linecap="square"/>
<line x1="427.5" y1="240.5" x2="427.5" y2="242.5" stroke="#4a9be6" stroke-width="1.3" stroke-linecap="square"/>
<line x1="427.5" y1="242.5" x2="434.5" y2="242.5" stroke="#4a9be6" stroke-width="1.3" stroke-linecap="square"/>
<line x1="434.5" y1="241.5" x2="434.5" y2="244.5" stroke="#4a9be6" stroke-width="1.3" stroke-linecap="square"/>
<line x1="434.5" y1="241.5" x2="490.5" y2="241.5" stroke="#4a9be6" stroke-width="1.3" stroke-linecap="square"/>
<line x1="434.5" y1="244.5" x2="450.5" y2="244.5" stroke="#4a9be6" stroke-width="1.3" stroke-linecap="square"/>
<line x1="450.5" y1="244.5" x2="450.5" y2="247.5" stroke="#4a9be6" stroke-width="1.3" stroke-linecap="square"/>
<line x1="450.5" y1="244.5" x2="490.5" y2="244.5" stroke="#4a9be6" stroke-width="1.3" stroke-linecap="square"/>
<line x1="450.5" y1="247.5" x2="465.5" y2="247.5" stroke="#4a9be6" stroke-width="1.3" stroke-linecap="square"/>
<line x1="397.5" y1="254.5" x2="428.5" y2="254.5" stroke="#4a9be6" stroke-width="1.3" stroke-linecap="square"/>
<rect x="454" y="234" width="5" height="3" fill="#62aaee"/>
<rect x="450" y="241" width="25" height="3" fill="#62aaee"/>
<rect x="466" y="246" width="24" height="2" fill="#62aaee"/>
<rect x="401" y="188" width="48" height="2" fill="#62aaee"/>
<rect x="390" y="189" width="27" height="4" fill="#62aaee"/>
<rect x="441" y="195" width="28" height="5" fill="#62aaee"/>
<rect x="430" y="204" width="8" height="8" fill="#62aaee"/>
<rect x="425" y="220" width="13" height="2" fill="#62aaee"/>
<rect x="478" y="225" width="12" height="5" fill="#62aaee"/>
<rect x="454" y="234" width="6" height="3" fill="#62aaee"/>
<line x1="390.5" y1="201.5" x2="416.5" y2="201.5" stroke="#4a9be6" stroke-width="1.3" stroke-linecap="square"/>
<line x1="416.5" y1="201.5" x2="416.5" y2="204.5" stroke="#4a9be6" stroke-width="1.3" stroke-linecap="square"/>
<line x1="416.5" y1="201.5" x2="458.5" y2="201.5" stroke="#4a9be6" stroke-width="1.3" stroke-linecap="square"/>
<line x1="416.5" y1="204.5" x2="429.5" y2="204.5" stroke="#4a9be6" stroke-width="1.3" stroke-linecap="square"/>
<line x1="429.5" y1="207.5" x2="449.5" y2="207.5" stroke="#4a9be6" stroke-width="1.3" stroke-linecap="square"/>
<line x1="390.5" y1="210.5" x2="458.5" y2="210.5" stroke="#4a9be6" stroke-width="1.3" stroke-linecap="square"/>
<line x1="400.5" y1="215.5" x2="438.5" y2="215.5" stroke="#4a9be6" stroke-width="1.3" stroke-linecap="square"/>
<line x1="425.5" y1="221.5" x2="458.5" y2="221.5" stroke="#4a9be6" stroke-width="1.3" stroke-linecap="square"/>
<line x1="394.5" y1="222.5" x2="490.5" y2="222.5" stroke="#4a9be6" stroke-width="1.3" stroke-linecap="square"/>
<line x1="432.5" y1="225.5" x2="462.5" y2="225.5" stroke="#4a9be6" stroke-width="1.3" stroke-linecap="square"/>
<line x1="462.5" y1="225.5" x2="462.5" y2="227.5" stroke="#4a9be6" stroke-width="1.3" stroke-linecap="square"/>
<line x1="462.5" y1="227.5" x2="478.5" y2="227.5" stroke="#4a9be6" stroke-width="1.3" stroke-linecap="square"/>
<line x1="403.5" y1="232.5" x2="427.5" y2="232.5" stroke="#4a9be6" stroke-width="1.3" stroke-linecap="square"/>
<line x1="419.5" y1="235.5" x2="469.5" y2="235.5" stroke="#4a9be6" stroke-width="1.3" stroke-linecap="square"/>
<line x1="419.5" y1="237.5" x2="449.5" y2="237.5" stroke="#4a9be6" stroke-width="1.3" stroke-linecap="square"/>
<line x1="386.5" y1="178.5" x2="438.5" y2="178.5" stroke="#4a9be6" stroke-width="1.3" stroke-linecap="square"/>
<line x1="303.5" y1="153.5" x2="303.5" y2="159.5" stroke="#4a9be6" stroke-width="1.3" stroke-linecap="square"/>
<line x1="303.5" y1="153.5" x2="330.5" y2="153.5" stroke="#4a9be6" stroke-width="1.3" stroke-linecap="square"/>
<line x1="330.5" y1="152.5" x2="330.5" y2="155.5" stroke="#4a9be6" stroke-width="1.3" stroke-linecap="square"/>
<line x1="330.5" y1="152.5" x2="340.5" y2="152.5" stroke="#4a9be6" stroke-width="1.3" stroke-linecap="square"/>
<line x1="330.5" y1="155.5" x2="340.5" y2="155.5" stroke="#4a9be6" stroke-width="1.3" stroke-linecap="square"/>
<line x1="303.5" y1="158.5" x2="305.5" y2="158.5" stroke="#4a9be6" stroke-width="1.3" stroke-linecap="square"/>
<line x1="305.5" y1="158.5" x2="305.5" y2="161.5" stroke="#4a9be6" stroke-width="1.3" stroke-linecap="square"/>
<line x1="305.5" y1="158.5" x2="340.5" y2="158.5" stroke="#4a9be6" stroke-width="1.3" stroke-linecap="square"/>
<line x1="305.5" y1="161.5" x2="323.5" y2="161.5" stroke="#4a9be6" stroke-width="1.3" stroke-linecap="square"/>
<line x1="323.5" y1="160.5" x2="323.5" y2="164.5" stroke="#4a9be6" stroke-width="1.3" stroke-linecap="square"/>
<line x1="323.5" y1="160.5" x2="340.5" y2="160.5" stroke="#4a9be6" stroke-width="1.3" stroke-linecap="square"/>
<line x1="323.5" y1="164.5" x2="333.5" y2="164.5" stroke="#4a9be6" stroke-width="1.3" stroke-linecap="square"/>
<line x1="333.5" y1="162.5" x2="333.5" y2="167.5" stroke="#4a9be6" stroke-width="1.3" stroke-linecap="square"/>
<line x1="333.5" y1="162.5" x2="367.5" y2="162.5" stroke="#4a9be6" stroke-width="1.3" stroke-linecap="square"/>
<line x1="333.5" y1="167.5" x2="348.5" y2="167.5" stroke="#4a9be6" stroke-width="1.3" stroke-linecap="square"/>
<line x1="348.5" y1="165.5" x2="348.5" y2="168.5" stroke="#4a9be6" stroke-width="1.3" stroke-linecap="square"/>
<line x1="348.5" y1="165.5" x2="366.5" y2="165.5" stroke="#4a9be6" stroke-width="1.3" stroke-linecap="square"/>
<line x1="348.5" y1="168.5" x2="366.5" y2="168.5" stroke="#4a9be6" stroke-width="1.3" stroke-linecap="square"/>
<line x1="366.5" y1="166.5" x2="366.5" y2="168.5" stroke="#4a9be6" stroke-width="1.3" stroke-linecap="square"/>
<line x1="366.5" y1="168.5" x2="392.5" y2="168.5" stroke="#4a9be6" stroke-width="1.3" stroke-linecap="square"/>
<line x1="392.5" y1="168.5" x2="392.5" y2="170.5" stroke="#4a9be6" stroke-width="1.3" stroke-linecap="square"/>
<line x1="392.5" y1="170.5" x2="403.5" y2="170.5" stroke="#4a9be6" stroke-width="1.3" stroke-linecap="square"/>
<line x1="367.5" y1="162.5" x2="381.5" y2="162.5" stroke="#4a9be6" stroke-width="1.3" stroke-linecap="square"/>
<rect x="340" y="152" width="78" height="9" fill="#62aaee"/>
<rect x="355" y="163" width="63" height="2" fill="#62aaee"/>
<rect x="402" y="165" width="16" height="7" fill="#62aaee"/>
<rect x="366" y="156" width="20" height="1" fill="#ffffff"/>
<rect x="407" y="164" width="11" height="1" fill="#ffffff"/>
<line x1="319.5" y1="173.5" x2="319.5" y2="178.5" stroke="#4a9be6" stroke-width="1.3" stroke-linecap="square"/>
<line x1="319.5" y1="173.5" x2="338.5" y2="173.5" stroke="#4a9be6" stroke-width="1.3" stroke-linecap="square"/>
<line x1="319.5" y1="176.5" x2="425.5" y2="176.5" stroke="#4a9be6" stroke-width="1.3" stroke-linecap="square"/>
<line x1="386.5" y1="175.5" x2="397.5" y2="175.5" stroke="#4a9be6" stroke-width="1.3" stroke-linecap="square"/>
<line x1="319.5" y1="178.5" x2="327.5" y2="178.5" stroke="#4a9be6" stroke-width="1.3" stroke-linecap="square"/>
<line x1="327.5" y1="176.5" x2="327.5" y2="180.5" stroke="#4a9be6" stroke-width="1.3" stroke-linecap="square"/>
<line x1="327.5" y1="180.5" x2="333.5" y2="180.5" stroke="#4a9be6" stroke-width="1.3" stroke-linecap="square"/>
<line x1="333.5" y1="179.5" x2="333.5" y2="182.5" stroke="#4a9be6" stroke-width="1.3" stroke-linecap="square"/>
<line x1="333.5" y1="179.5" x2="340.5" y2="179.5" stroke="#4a9be6" stroke-width="1.3" stroke-linecap="square"/>
<line x1="333.5" y1="182.5" x2="340.5" y2="182.5" stroke="#4a9be6" stroke-width="1.3" stroke-linecap="square"/>
<line x1="304.5" y1="184.5" x2="335.5" y2="184.5" stroke="#4a9be6" stroke-width="1.3" stroke-linecap="square"/>
<line x1="335.5" y1="184.5" x2="335.5" y2="187.5" stroke="#4a9be6" stroke-width="1.3" stroke-linecap="square"/>
<line x1="335.5" y1="187.5" x2="344.5" y2="187.5" stroke="#4a9be6" stroke-width="1.3" stroke-linecap="square"/>
<line x1="368.5" y1="187.5" x2="406.5" y2="187.5" stroke="#4a9be6" stroke-width="1.3" stroke-linecap="square"/>
<line x1="304.5" y1="184.5" x2="304.5" y2="198.5" stroke="#4a9be6" stroke-width="1.3" stroke-linecap="square"/>
<line x1="304.5" y1="192.5" x2="338.5" y2="192.5" stroke="#4a9be6" stroke-width="1.3" stroke-linecap="square"/>
<line x1="328.5" y1="192.5" x2="328.5" y2="198.5" stroke="#4a9be6" stroke-width="1.3" stroke-linecap="square"/>
<line x1="337.5" y1="196.5" x2="360.5" y2="196.5" stroke="#4a9be6" stroke-width="1.3" stroke-linecap="square"/>
<line x1="377.5" y1="195.5" x2="422.5" y2="195.5" stroke="#4a9be6" stroke-width="1.3" stroke-linecap="square"/>
<rect x="338" y="172" width="38" height="2" fill="#62aaee"/>
<rect x="338" y="174" width="48" height="4" fill="#62aaee"/>
<rect x="338" y="178" width="47" height="5" fill="#62aaee"/>
<rect x="385" y="181" width="13" height="2" fill="#62aaee"/>
<rect x="338" y="184" width="80" height="2" fill="#62aaee"/>
<rect x="345" y="185" width="13" height="4" fill="#62aaee"/>
<rect x="338" y="189" width="80" height="5" fill="#62aaee"/>
<rect x="338" y="191" width="65" height="1" fill="#ffffff"/>
<line x1="336.5" y1="237.5" x2="336.5" y2="251.5" stroke="#4a9be6" stroke-width="1.3" stroke-linecap="square"/>
<line x1="336.5" y1="251.5" x2="358.5" y2="251.5" stroke="#4a9be6" stroke-width="1.3" stroke-linecap="square"/>
<line x1="358.5" y1="234.5" x2="358.5" y2="268.5" stroke="#4a9be6" stroke-width="1.3" stroke-linecap="square"/>
<line x1="356.5" y1="268.5" x2="358.5" y2="268.5" stroke="#4a9be6" stroke-width="1.3" stroke-linecap="square"/>
<line x1="356.5" y1="254.5" x2="356.5" y2="282.5" stroke="#4a9be6" stroke-width="1.3" stroke-linecap="square"/>
<line x1="356.5" y1="254.5" x2="373.5" y2="254.5" stroke="#4a9be6" stroke-width="1.3" stroke-linecap="square"/>
<line x1="373.5" y1="251.5" x2="373.5" y2="258.5" stroke="#4a9be6" stroke-width="1.3" stroke-linecap="square"/>
<line x1="373.5" y1="251.5" x2="444.5" y2="251.5" stroke="#4a9be6" stroke-width="1.3" stroke-linecap="square"/>
<line x1="444.5" y1="250.5" x2="444.5" y2="252.5" stroke="#4a9be6" stroke-width="1.3" stroke-linecap="square"/>
<line x1="444.5" y1="250.5" x2="490.5" y2="250.5" stroke="#4a9be6" stroke-width="1.3" stroke-linecap="square"/>
<line x1="444.5" y1="252.5" x2="490.5" y2="252.5" stroke="#4a9be6" stroke-width="1.3" stroke-linecap="square"/>
<line x1="443.5" y1="249.5" x2="470.5" y2="249.5" stroke="#4a9be6" stroke-width="1.3" stroke-linecap="square"/>
<line x1="373.5" y1="258.5" x2="390.5" y2="258.5" stroke="#4a9be6" stroke-width="1.3" stroke-linecap="square"/>
<line x1="390.5" y1="255.5" x2="390.5" y2="261.5" stroke="#4a9be6" stroke-width="1.3" stroke-linecap="square"/>
<line x1="390.5" y1="255.5" x2="398.5" y2="255.5" stroke="#4a9be6" stroke-width="1.3" stroke-linecap="square"/>
<line x1="398.5" y1="254.5" x2="398.5" y2="256.5" stroke="#4a9be6" stroke-width="1.3" stroke-linecap="square"/>
<line x1="398.5" y1="254.5" x2="428.5" y2="254.5" stroke="#4a9be6" stroke-width="1.3" stroke-linecap="square"/>
<line x1="428.5" y1="254.5" x2="490.5" y2="254.5" stroke="#4a9be6" stroke-width="1.3" stroke-linecap="square"/>
<line x1="398.5" y1="256.5" x2="490.5" y2="256.5" stroke="#4a9be6" stroke-width="1.3" stroke-linecap="square"/>
<line x1="390.5" y1="261.5" x2="419.5" y2="261.5" stroke="#4a9be6" stroke-width="1.3" stroke-linecap="square"/>
<line x1="419.5" y1="258.5" x2="419.5" y2="264.5" stroke="#4a9be6" stroke-width="1.3" stroke-linecap="square"/>
<line x1="419.5" y1="258.5" x2="455.5" y2="258.5" stroke="#4a9be6" stroke-width="1.3" stroke-linecap="square"/>
<line x1="455.5" y1="260.5" x2="490.5" y2="260.5" stroke="#4a9be6" stroke-width="1.3" stroke-linecap="square"/>
<line x1="419.5" y1="262.5" x2="431.5" y2="262.5" stroke="#4a9be6" stroke-width="1.3" stroke-linecap="square"/>
<line x1="443.5" y1="262.5" x2="490.5" y2="262.5" stroke="#4a9be6" stroke-width="1.3" stroke-linecap="square"/>
<line x1="431.5" y1="262.5" x2="431.5" y2="267.5" stroke="#4a9be6" stroke-width="1.3" stroke-linecap="square"/>
<line x1="431.5" y1="267.5" x2="435.5" y2="267.5" stroke="#4a9be6" stroke-width="1.3" stroke-linecap="square"/>
<line x1="435.5" y1="264.5" x2="435.5" y2="269.5" stroke="#4a9be6" stroke-width="1.3" stroke-linecap="square"/>
<line x1="435.5" y1="264.5" x2="455.5" y2="264.5" stroke="#4a9be6" stroke-width="1.3" stroke-linecap="square"/>
<line x1="435.5" y1="269.5" x2="439.5" y2="269.5" stroke="#4a9be6" stroke-width="1.3" stroke-linecap="square"/>
<line x1="439.5" y1="266.5" x2="439.5" y2="273.5" stroke="#4a9be6" stroke-width="1.3" stroke-linecap="square"/>
<line x1="439.5" y1="266.5" x2="444.5" y2="266.5" stroke="#4a9be6" stroke-width="1.3" stroke-linecap="square"/>
<line x1="444.5" y1="265.5" x2="444.5" y2="268.5" stroke="#4a9be6" stroke-width="1.3" stroke-linecap="square"/>
<line x1="444.5" y1="266.5" x2="459.5" y2="266.5" stroke="#4a9be6" stroke-width="1.3" stroke-linecap="square"/>
<line x1="444.5" y1="268.5" x2="490.5" y2="268.5" stroke="#4a9be6" stroke-width="1.3" stroke-linecap="square"/>
<line x1="439.5" y1="273.5" x2="490.5" y2="273.5" stroke="#4a9be6" stroke-width="1.3" stroke-linecap="square"/>
<line x1="490.5" y1="269.5" x2="510.5" y2="269.5" stroke="#4a9be6" stroke-width="1.3" stroke-linecap="square"/>
<line x1="461.5" y1="275.5" x2="484.5" y2="275.5" stroke="#4a9be6" stroke-width="1.3" stroke-linecap="square"/>
<line x1="356.5" y1="282.5" x2="389.5" y2="282.5" stroke="#4a9be6" stroke-width="1.3" stroke-linecap="square"/>
<line x1="389.5" y1="279.5" x2="389.5" y2="285.5" stroke="#4a9be6" stroke-width="1.3" stroke-linecap="square"/>
<line x1="389.5" y1="279.5" x2="448.5" y2="279.5" stroke="#4a9be6" stroke-width="1.3" stroke-linecap="square"/>
<line x1="389.5" y1="285.5" x2="398.5" y2="285.5" stroke="#4a9be6" stroke-width="1.3" stroke-linecap="square"/>
<line x1="398.5" y1="284.5" x2="398.5" y2="293.5" stroke="#4a9be6" stroke-width="1.3" stroke-linecap="square"/>
<line x1="398.5" y1="284.5" x2="406.5" y2="284.5" stroke="#4a9be6" stroke-width="1.3" stroke-linecap="square"/>
<line x1="406.5" y1="282.5" x2="406.5" y2="286.5" stroke="#4a9be6" stroke-width="1.3" stroke-linecap="square"/>
<line x1="406.5" y1="282.5" x2="490.5" y2="282.5" stroke="#4a9be6" stroke-width="1.3" stroke-linecap="square"/>
<line x1="406.5" y1="283.5" x2="445.5" y2="283.5" stroke="#4a9be6" stroke-width="1.3" stroke-linecap="square"/>
<line x1="406.5" y1="286.5" x2="428.5" y2="286.5" stroke="#4a9be6" stroke-width="1.3" stroke-linecap="square"/>
<line x1="401.5" y1="287.5" x2="405.5" y2="287.5" stroke="#4a9be6" stroke-width="1.3" stroke-linecap="square"/>
<line x1="398.5" y1="288.5" x2="436.5" y2="288.5" stroke="#4a9be6" stroke-width="1.3" stroke-linecap="square"/>
<line x1="436.5" y1="288.5" x2="490.5" y2="288.5" stroke="#4a9be6" stroke-width="1.3" stroke-linecap="square"/>
<line x1="448.5" y1="285.5" x2="490.5" y2="285.5" stroke="#4a9be6" stroke-width="1.3" stroke-linecap="square"/>
<line x1="431.5" y1="290.5" x2="459.5" y2="290.5" stroke="#4a9be6" stroke-width="1.3" stroke-linecap="square"/>
<line x1="431.5" y1="292.5" x2="454.5" y2="292.5" stroke="#4a9be6" stroke-width="1.3" stroke-linecap="square"/>
<line x1="401.5" y1="286.5" x2="401.5" y2="300.5" stroke="#4a9be6" stroke-width="1.3" stroke-linecap="square"/>
<line x1="401.5" y1="300.5" x2="423.5" y2="300.5" stroke="#4a9be6" stroke-width="1.3" stroke-linecap="square"/>
<line x1="423.5" y1="291.5" x2="423.5" y2="309.5" stroke="#4a9be6" stroke-width="1.3" stroke-linecap="square"/>
<line x1="423.5" y1="291.5" x2="433.5" y2="291.5" stroke="#4a9be6" stroke-width="1.3" stroke-linecap="square"/>
<line x1="433.5" y1="290.5" x2="433.5" y2="295.5" stroke="#4a9be6" stroke-width="1.3" stroke-linecap="square"/>
<line x1="433.5" y1="290.5" x2="455.5" y2="290.5" stroke="#4a9be6" stroke-width="1.3" stroke-linecap="square"/>
<line x1="433.5" y1="295.5" x2="443.5" y2="295.5" stroke="#4a9be6" stroke-width="1.3" stroke-linecap="square"/>
<line x1="443.5" y1="294.5" x2="443.5" y2="297.5" stroke="#4a9be6" stroke-width="1.3" stroke-linecap="square"/>
<line x1="443.5" y1="294.5" x2="455.5" y2="294.5" stroke="#4a9be6" stroke-width="1.3" stroke-linecap="square"/>
<line x1="443.5" y1="297.5" x2="455.5" y2="297.5" stroke="#4a9be6" stroke-width="1.3" stroke-linecap="square"/>
<line x1="454.5" y1="295.5" x2="480.5" y2="295.5" stroke="#4a9be6" stroke-width="1.3" stroke-linecap="square"/>
<line x1="455.5" y1="298.5" x2="490.5" y2="298.5" stroke="#4a9be6" stroke-width="1.3" stroke-linecap="square"/>
<line x1="490.5" y1="299.5" x2="501.5" y2="299.5" stroke="#4a9be6" stroke-width="1.3" stroke-linecap="square"/>
<line x1="423.5" y1="309.5" x2="426.5" y2="309.5" stroke="#4a9be6" stroke-width="1.3" stroke-linecap="square"/>
<line x1="426.5" y1="305.5" x2="426.5" y2="310.5" stroke="#4a9be6" stroke-width="1.3" stroke-linecap="square"/>
<line x1="426.5" y1="305.5" x2="436.5" y2="305.5" stroke="#4a9be6" stroke-width="1.3" stroke-linecap="square"/>
<line x1="436.5" y1="304.5" x2="436.5" y2="306.5" stroke="#4a9be6" stroke-width="1.3" stroke-linecap="square"/>
<line x1="436.5" y1="303.5" x2="459.5" y2="303.5" stroke="#4a9be6" stroke-width="1.3" stroke-linecap="square"/>
<line x1="436.5" y1="306.5" x2="444.5" y2="306.5" stroke="#4a9be6" stroke-width="1.3" stroke-linecap="square"/>
<line x1="444.5" y1="305.5" x2="480.5" y2="305.5" stroke="#4a9be6" stroke-width="1.3" stroke-linecap="square"/>
<line x1="429.5" y1="308.5" x2="459.5" y2="308.5" stroke="#4a9be6" stroke-width="1.3" stroke-linecap="square"/>
<line x1="426.5" y1="310.5" x2="428.5" y2="310.5" stroke="#4a9be6" stroke-width="1.3" stroke-linecap="square"/>
<line x1="428.5" y1="310.5" x2="428.5" y2="315.5" stroke="#4a9be6" stroke-width="1.3" stroke-linecap="square"/>
<line x1="428.5" y1="310.5" x2="438.5" y2="310.5" stroke="#4a9be6" stroke-width="1.3" stroke-linecap="square"/>
<line x1="438.5" y1="311.5" x2="450.5" y2="311.5" stroke="#4a9be6" stroke-width="1.3" stroke-linecap="square"/>
<line x1="428.5" y1="315.5" x2="439.5" y2="315.5" stroke="#4a9be6" stroke-width="1.3" stroke-linecap="square"/>
<line x1="439.5" y1="314.5" x2="439.5" y2="319.5" stroke="#4a9be6" stroke-width="1.3" stroke-linecap="square"/>
<line x1="439.5" y1="314.5" x2="455.5" y2="314.5" stroke="#4a9be6" stroke-width="1.3" stroke-linecap="square"/>
<line x1="442.5" y1="315.5" x2="490.5" y2="315.5" stroke="#4a9be6" stroke-width="1.3" stroke-linecap="square"/>
<line x1="439.5" y1="319.5" x2="446.5" y2="319.5" stroke="#4a9be6" stroke-width="1.3" stroke-linecap="square"/>
<rect x="434" y="240" width="15" height="1" fill="#62aaee"/>
<rect x="433" y="255" width="6" height="5" fill="#62aaee"/>
<rect x="428" y="260" width="4" height="3" fill="#62aaee"/>
<rect x="421" y="278" width="28" height="3" fill="#62aaee"/>
<rect x="428" y="286" width="21" height="3" fill="#62aaee"/>
<rect x="437" y="286" width="12" height="6" fill="#62aaee"/>
<rect x="439" y="310" width="10" height="2" fill="#62aaee"/>
<rect x="447" y="318" width="13" height="3" fill="#62aaee"/>
<line x1="420.5" y1="224.5" x2="501.5" y2="224.5" stroke="#62aaee" stroke-width="1.3" stroke-linecap="square"/>
<line x1="431.5" y1="226.5" x2="482.5" y2="226.5" stroke="#62aaee" stroke-width="1.3" stroke-linecap="square"/>
<line x1="463.5" y1="228.5" x2="490.5" y2="228.5" stroke="#62aaee" stroke-width="1.3" stroke-linecap="square"/>
<line x1="427.5" y1="235.5" x2="470.5" y2="235.5" stroke="#62aaee" stroke-width="1.3" stroke-linecap="square"/>
<line x1="430.5" y1="239.5" x2="450.5" y2="239.5" stroke="#62aaee" stroke-width="1.3" stroke-linecap="square"/>
<rect x="480" y="225" width="10" height="5" fill="#62aaee"/>
<rect x="454" y="234" width="6" height="3" fill="#62aaee"/>
<rect x="458" y="250" width="32" height="3" fill="#62aaee"/>
<rect x="433" y="255" width="6" height="4" fill="#62aaee"/>
<rect x="443" y="261" width="6" height="2" fill="#62aaee"/>
<rect x="482" y="268" width="8" height="10" fill="#62aaee"/>
<rect x="469" y="294" width="11" height="4" fill="#62aaee"/>
<rect x="471" y="297" width="19" height="5" fill="#62aaee"/>
<rect x="454" y="304" width="6" height="7" fill="#62aaee"/>
<rect x="464" y="314" width="26" height="4" fill="#62aaee"/>
<line x1="163.5" y1="212.5" x2="163.5" y2="347.5" stroke="#3150ae" stroke-width="1.3" stroke-linecap="square"/>
<line x1="163.5" y1="347.5" x2="197.5" y2="347.5" stroke="#3150ae" stroke-width="1.3" stroke-linecap="square"/>
<line x1="197.5" y1="324.5" x2="197.5" y2="368.5" stroke="#3150ae" stroke-width="1.3" stroke-linecap="square"/>
<line x1="197.5" y1="324.5" x2="255.5" y2="324.5" stroke="#3150ae" stroke-width="1.3" stroke-linecap="square"/>
<line x1="255.5" y1="322.5" x2="255.5" y2="326.5" stroke="#3150ae" stroke-width="1.3" stroke-linecap="square"/>
<line x1="255.5" y1="322.5" x2="292.5" y2="322.5" stroke="#3150ae" stroke-width="1.3" stroke-linecap="square"/>
<line x1="255.5" y1="326.5" x2="324.5" y2="326.5" stroke="#3150ae" stroke-width="1.3" stroke-linecap="square"/>
<line x1="324.5" y1="324.5" x2="324.5" y2="327.5" stroke="#3150ae" stroke-width="1.3" stroke-linecap="square"/>
<line x1="324.5" y1="324.5" x2="339.5" y2="324.5" stroke="#3150ae" stroke-width="1.3" stroke-linecap="square"/>
<line x1="324.5" y1="327.5" x2="470.5" y2="327.5" stroke="#3150ae" stroke-width="1.3" stroke-linecap="square"/>
<rect x="340" y="324" width="36" height="3" fill="#3d5fae"/>
<rect x="363" y="327" width="107" height="3" fill="#3d5fae"/>
<rect x="341" y="330" width="15" height="2" fill="#3d5fae"/>
<line x1="316.5" y1="330.5" x2="356.5" y2="330.5" stroke="#3150ae" stroke-width="1.3" stroke-linecap="square"/>
<line x1="316.5" y1="330.5" x2="316.5" y2="333.5" stroke="#3150ae" stroke-width="1.3" stroke-linecap="square"/>
<line x1="316.5" y1="333.5" x2="414.5" y2="333.5" stroke="#3150ae" stroke-width="1.3" stroke-linecap="square"/>
<line x1="236.5" y1="332.5" x2="316.5" y2="332.5" stroke="#3150ae" stroke-width="1.3" stroke-linecap="square"/>
<line x1="236.5" y1="332.5" x2="236.5" y2="351.5" stroke="#3150ae" stroke-width="1.3" stroke-linecap="square"/>
<line x1="217.5" y1="342.5" x2="236.5" y2="342.5" stroke="#3150ae" stroke-width="1.3" stroke-linecap="square"/>
<line x1="217.5" y1="342.5" x2="217.5" y2="400.5" stroke="#3150ae" stroke-width="1.3" stroke-linecap="square"/>
<line x1="236.5" y1="351.5" x2="276.5" y2="351.5" stroke="#3150ae" stroke-width="1.3" stroke-linecap="square"/>
<line x1="276.5" y1="344.5" x2="276.5" y2="358.5" stroke="#3150ae" stroke-width="1.3" stroke-linecap="square"/>
<line x1="276.5" y1="344.5" x2="287.5" y2="344.5" stroke="#3150ae" stroke-width="1.3" stroke-linecap="square"/>
<line x1="287.5" y1="341.5" x2="287.5" y2="347.5" stroke="#3150ae" stroke-width="1.3" stroke-linecap="square"/>
<line x1="287.5" y1="341.5" x2="318.5" y2="341.5" stroke="#3150ae" stroke-width="1.3" stroke-linecap="square"/>
<line x1="287.5" y1="347.5" x2="318.5" y2="347.5" stroke="#3150ae" stroke-width="1.3" stroke-linecap="square"/>
<line x1="318.5" y1="344.5" x2="318.5" y2="349.5" stroke="#3150ae" stroke-width="1.3" stroke-linecap="square"/>
<line x1="318.5" y1="344.5" x2="333.5" y2="344.5" stroke="#3150ae" stroke-width="1.3" stroke-linecap="square"/>
<line x1="333.5" y1="343.5" x2="333.5" y2="346.5" stroke="#3150ae" stroke-width="1.3" stroke-linecap="square"/>
<line x1="333.5" y1="343.5" x2="375.5" y2="343.5" stroke="#3150ae" stroke-width="1.3" stroke-linecap="square"/>
<line x1="333.5" y1="346.5" x2="386.5" y2="346.5" stroke="#3150ae" stroke-width="1.3" stroke-linecap="square"/>
<line x1="333.5" y1="347.5" x2="490.5" y2="347.5" stroke="#3150ae" stroke-width="1.3" stroke-linecap="square"/>
<line x1="318.5" y1="349.5" x2="338.5" y2="349.5" stroke="#3150ae" stroke-width="1.3" stroke-linecap="square"/>
<line x1="338.5" y1="349.5" x2="338.5" y2="352.5" stroke="#3150ae" stroke-width="1.3" stroke-linecap="square"/>
<line x1="384.5" y1="350.5" x2="469.5" y2="350.5" stroke="#3150ae" stroke-width="1.3" stroke-linecap="square"/>
<line x1="338.5" y1="352.5" x2="386.5" y2="352.5" stroke="#3150ae" stroke-width="1.3" stroke-linecap="square"/>
<line x1="338.5" y1="354.5" x2="469.5" y2="354.5" stroke="#3150ae" stroke-width="1.3" stroke-linecap="square"/>
<rect x="348" y="343" width="28" height="3" fill="#3d5fae"/>
<rect x="348" y="349" width="38" height="4" fill="#3d5fae"/>
<rect x="448" y="353" width="21" height="3" fill="#3d5fae"/>
<line x1="276.5" y1="358.5" x2="320.5" y2="358.5" stroke="#3150ae" stroke-width="1.3" stroke-linecap="square"/>
<line x1="320.5" y1="355.5" x2="320.5" y2="366.5" stroke="#3150ae" stroke-width="1.3" stroke-linecap="square"/>
<line x1="320.5" y1="355.5" x2="410.5" y2="355.5" stroke="#3150ae" stroke-width="1.3" stroke-linecap="square"/>
<line x1="324.5" y1="357.5" x2="386.5" y2="357.5" stroke="#3150ae" stroke-width="1.3" stroke-linecap="square"/>
<line x1="324.5" y1="357.5" x2="324.5" y2="362.5" stroke="#3150ae" stroke-width="1.3" stroke-linecap="square"/>
<line x1="334.5" y1="360.5" x2="356.5" y2="360.5" stroke="#3150ae" stroke-width="1.3" stroke-linecap="square"/>
<line x1="334.5" y1="357.5" x2="334.5" y2="360.5" stroke="#3150ae" stroke-width="1.3" stroke-linecap="square"/>
<line x1="324.5" y1="361.5" x2="469.5" y2="361.5" stroke="#3150ae" stroke-width="1.3" stroke-linecap="square"/>
<rect x="336" y="357" width="20" height="3" fill="#3d5fae"/>
<rect x="430" y="360" width="39" height="3" fill="#3d5fae"/>
<line x1="338.5" y1="364.5" x2="397.5" y2="364.5" stroke="#3150ae" stroke-width="1.3" stroke-linecap="square"/>
<line x1="338.5" y1="362.5" x2="338.5" y2="367.5" stroke="#3150ae" stroke-width="1.3" stroke-linecap="square"/>
<line x1="338.5" y1="365.5" x2="386.5" y2="365.5" stroke="#3150ae" stroke-width="1.3" stroke-linecap="square"/>
<line x1="320.5" y1="367.5" x2="338.5" y2="367.5" stroke="#3150ae" stroke-width="1.3" stroke-linecap="square"/>
<rect x="339" y="364" width="27" height="3" fill="#3d5fae"/>
<line x1="197.5" y1="368.5" x2="217.5" y2="368.5" stroke="#3150ae" stroke-width="1.3" stroke-linecap="square"/>
<line x1="300.5" y1="369.5" x2="313.5" y2="369.5" stroke="#3150ae" stroke-width="1.3" stroke-linecap="square"/>
<line x1="317.5" y1="371.5" x2="375.5" y2="371.5" stroke="#3150ae" stroke-width="1.3" stroke-linecap="square"/>
<line x1="317.5" y1="373.5" x2="459.5" y2="373.5" stroke="#3150ae" stroke-width="1.3" stroke-linecap="square"/>
<line x1="317.5" y1="371.5" x2="317.5" y2="380.5" stroke="#3150ae" stroke-width="1.3" stroke-linecap="square"/>
<rect x="333" y="370" width="13" height="3" fill="#3d5fae"/>
<rect x="403" y="372" width="25" height="3" fill="#3d5fae"/>
<line x1="414.5" y1="332.5" x2="414.5" y2="336.5" stroke="#3150ae" stroke-width="1.3" stroke-linecap="square"/>
<line x1="414.5" y1="332.5" x2="437.5" y2="332.5" stroke="#3150ae" stroke-width="1.3" stroke-linecap="square"/>
<line x1="414.5" y1="336.5" x2="429.5" y2="336.5" stroke="#3150ae" stroke-width="1.3" stroke-linecap="square"/>
<line x1="429.5" y1="334.5" x2="429.5" y2="337.5" stroke="#3150ae" stroke-width="1.3" stroke-linecap="square"/>
<line x1="429.5" y1="334.5" x2="458.5" y2="334.5" stroke="#3150ae" stroke-width="1.3" stroke-linecap="square"/>
<line x1="429.5" y1="337.5" x2="445.5" y2="337.5" stroke="#3150ae" stroke-width="1.3" stroke-linecap="square"/>
<rect x="448" y="334" width="10" height="5" fill="#3d5fae"/>
<line x1="211.5" y1="372.5" x2="211.5" y2="417.5" stroke="#3150ae" stroke-width="1.3" stroke-linecap="square"/>
<line x1="211.5" y1="394.5" x2="218.5" y2="394.5" stroke="#3150ae" stroke-width="1.3" stroke-linecap="square"/>
<line x1="211.5" y1="372.5" x2="235.5" y2="372.5" stroke="#3150ae" stroke-width="1.3" stroke-linecap="square"/>
<line x1="235.5" y1="368.5" x2="235.5" y2="375.5" stroke="#3150ae" stroke-width="1.3" stroke-linecap="square"/>
<line x1="235.5" y1="368.5" x2="313.5" y2="368.5" stroke="#3150ae" stroke-width="1.3" stroke-linecap="square"/>
<line x1="235.5" y1="370.5" x2="318.5" y2="370.5" stroke="#3150ae" stroke-width="1.3" stroke-linecap="square"/>
<line x1="318.5" y1="370.5" x2="318.5" y2="373.5" stroke="#3150ae" stroke-width="1.3" stroke-linecap="square"/>
<line x1="318.5" y1="370.5" x2="376.5" y2="370.5" stroke="#3150ae" stroke-width="1.3" stroke-linecap="square"/>
<line x1="318.5" y1="373.5" x2="333.5" y2="373.5" stroke="#3150ae" stroke-width="1.3" stroke-linecap="square"/>
<line x1="333.5" y1="374.5" x2="458.5" y2="374.5" stroke="#3150ae" stroke-width="1.3" stroke-linecap="square"/>
<line x1="235.5" y1="375.5" x2="244.5" y2="375.5" stroke="#3150ae" stroke-width="1.3" stroke-linecap="square"/>
<line x1="244.5" y1="372.5" x2="244.5" y2="380.5" stroke="#3150ae" stroke-width="1.3" stroke-linecap="square"/>
<line x1="244.5" y1="375.5" x2="315.5" y2="375.5" stroke="#3150ae" stroke-width="1.3" stroke-linecap="square"/>
<line x1="244.5" y1="380.5" x2="274.5" y2="380.5" stroke="#3150ae" stroke-width="1.3" stroke-linecap="square"/>
<line x1="274.5" y1="376.5" x2="274.5" y2="385.5" stroke="#3150ae" stroke-width="1.3" stroke-linecap="square"/>
<line x1="274.5" y1="377.5" x2="427.5" y2="377.5" stroke="#3150ae" stroke-width="1.3" stroke-linecap="square"/>
<line x1="274.5" y1="384.5" x2="302.5" y2="384.5" stroke="#3150ae" stroke-width="1.3" stroke-linecap="square"/>
<line x1="302.5" y1="378.5" x2="302.5" y2="392.5" stroke="#3150ae" stroke-width="1.3" stroke-linecap="square"/>
<line x1="302.5" y1="378.5" x2="315.5" y2="378.5" stroke="#3150ae" stroke-width="1.3" stroke-linecap="square"/>
<line x1="315.5" y1="377.5" x2="315.5" y2="379.5" stroke="#3150ae" stroke-width="1.3" stroke-linecap="square"/>
<line x1="315.5" y1="379.5" x2="400.5" y2="379.5" stroke="#3150ae" stroke-width="1.3" stroke-linecap="square"/>
<line x1="320.5" y1="379.5" x2="320.5" y2="381.5" stroke="#3150ae" stroke-width="1.3" stroke-linecap="square"/>
<line x1="320.5" y1="381.5" x2="345.5" y2="381.5" stroke="#3150ae" stroke-width="1.3" stroke-linecap="square"/>
<line x1="328.5" y1="381.5" x2="328.5" y2="382.5" stroke="#3150ae" stroke-width="1.3" stroke-linecap="square"/>
<line x1="328.5" y1="382.5" x2="345.5" y2="382.5" stroke="#3150ae" stroke-width="1.3" stroke-linecap="square"/>
<line x1="333.5" y1="381.5" x2="333.5" y2="384.5" stroke="#3150ae" stroke-width="1.3" stroke-linecap="square"/>
<line x1="341.5" y1="386.5" x2="400.5" y2="386.5" stroke="#3150ae" stroke-width="1.3" stroke-linecap="square"/>
<rect x="334" y="372" width="11" height="2" fill="#3d5fae"/>
<rect x="403" y="372" width="25" height="3" fill="#3d5fae"/>
<rect x="345" y="379" width="11" height="6" fill="#3d5fae"/>
<rect x="345" y="383" width="31" height="8" fill="#3d5fae"/>
<rect x="356" y="387" width="61" height="2" fill="#3d5fae"/>
<line x1="417.5" y1="387.5" x2="438.5" y2="387.5" stroke="#3150ae" stroke-width="1.3" stroke-linecap="square"/>
<line x1="322.5" y1="388.5" x2="322.5" y2="394.5" stroke="#3150ae" stroke-width="1.3" stroke-linecap="square"/>
<line x1="322.5" y1="389.5" x2="345.5" y2="389.5" stroke="#3150ae" stroke-width="1.3" stroke-linecap="square"/>
<line x1="302.5" y1="392.5" x2="322.5" y2="392.5" stroke="#3150ae" stroke-width="1.3" stroke-linecap="square"/>
<line x1="322.5" y1="394.5" x2="342.5" y2="394.5" stroke="#3150ae" stroke-width="1.3" stroke-linecap="square"/>
<line x1="342.5" y1="393.5" x2="342.5" y2="396.5" stroke="#3150ae" stroke-width="1.3" stroke-linecap="square"/>
<line x1="342.5" y1="393.5" x2="375.5" y2="393.5" stroke="#3150ae" stroke-width="1.3" stroke-linecap="square"/>
<line x1="375.5" y1="395.5" x2="407.5" y2="395.5" stroke="#3150ae" stroke-width="1.3" stroke-linecap="square"/>
<line x1="342.5" y1="396.5" x2="373.5" y2="396.5" stroke="#3150ae" stroke-width="1.3" stroke-linecap="square"/>
<line x1="373.5" y1="397.5" x2="436.5" y2="397.5" stroke="#3150ae" stroke-width="1.3" stroke-linecap="square"/>
<line x1="436.5" y1="396.5" x2="436.5" y2="399.5" stroke="#3150ae" stroke-width="1.3" stroke-linecap="square"/>
<line x1="436.5" y1="396.5" x2="465.5" y2="396.5" stroke="#3150ae" stroke-width="1.3" stroke-linecap="square"/>
<line x1="436.5" y1="399.5" x2="465.5" y2="399.5" stroke="#3150ae" stroke-width="1.3" stroke-linecap="square"/>
<rect x="466" y="395" width="24" height="5" fill="#3d5fae"/>
<line x1="232.5" y1="404.5" x2="232.5" y2="424.5" stroke="#3150ae" stroke-width="1.3" stroke-linecap="square"/>
<line x1="232.5" y1="404.5" x2="241.5" y2="404.5" stroke="#3150ae" stroke-width="1.3" stroke-linecap="square"/>
<line x1="241.5" y1="401.5" x2="241.5" y2="405.5" stroke="#3150ae" stroke-width="1.3" stroke-linecap="square"/>
<line x1="241.5" y1="401.5" x2="292.5" y2="401.5" stroke="#3150ae" stroke-width="1.3" stroke-linecap="square"/>
<line x1="241.5" y1="405.5" x2="397.5" y2="405.5" stroke="#3150ae" stroke-width="1.3" stroke-linecap="square"/>
<rect x="246" y="400" width="26" height="3" fill="#3d5fae"/>
<rect x="334" y="405" width="53" height="5" fill="#3d5fae"/>
<rect x="348" y="409" width="25" height="5" fill="#3d5fae"/>
<rect x="340" y="414" width="32" height="3" fill="#3d5fae"/>
<rect x="370" y="416" width="47" height="2" fill="#3d5fae"/>
<rect x="402" y="422" width="46" height="2" fill="#3d5fae"/>
<line x1="290.5" y1="406.5" x2="397.5" y2="406.5" stroke="#3150ae" stroke-width="1.3" stroke-linecap="square"/>
<line x1="290.5" y1="410.5" x2="313.5" y2="410.5" stroke="#3150ae" stroke-width="1.3" stroke-linecap="square"/>
<line x1="312.5" y1="409.5" x2="312.5" y2="419.5" stroke="#3150ae" stroke-width="1.3" stroke-linecap="square"/>
<line x1="312.5" y1="411.5" x2="348.5" y2="411.5" stroke="#3150ae" stroke-width="1.3" stroke-linecap="square"/>
<line x1="323.5" y1="413.5" x2="397.5" y2="413.5" stroke="#3150ae" stroke-width="1.3" stroke-linecap="square"/>
<line x1="339.5" y1="415.5" x2="371.5" y2="415.5" stroke="#3150ae" stroke-width="1.3" stroke-linecap="square"/>
<line x1="339.5" y1="418.5" x2="400.5" y2="418.5" stroke="#3150ae" stroke-width="1.3" stroke-linecap="square"/>
<line x1="393.5" y1="420.5" x2="469.5" y2="420.5" stroke="#3150ae" stroke-width="1.3" stroke-linecap="square"/>
<line x1="230.5" y1="412.5" x2="290.5" y2="412.5" stroke="#3150ae" stroke-width="1.3" stroke-linecap="square"/>
<line x1="230.5" y1="412.5" x2="230.5" y2="424.5" stroke="#3150ae" stroke-width="1.3" stroke-linecap="square"/>
<line x1="211.5" y1="417.5" x2="230.5" y2="417.5" stroke="#3150ae" stroke-width="1.3" stroke-linecap="square"/>
<line x1="230.5" y1="424.5" x2="230.5" y2="447.5" stroke="#3150ae" stroke-width="1.3" stroke-linecap="square"/>
<line x1="232.5" y1="424.5" x2="232.5" y2="429.5" stroke="#3150ae" stroke-width="1.3" stroke-linecap="square"/>
<line x1="230.5" y1="447.5" x2="239.5" y2="447.5" stroke="#3150ae" stroke-width="1.3" stroke-linecap="square"/>
<line x1="239.5" y1="434.5" x2="239.5" y2="458.5" stroke="#3150ae" stroke-width="1.3" stroke-linecap="square"/>
<line x1="239.5" y1="434.5" x2="251.5" y2="434.5" stroke="#3150ae" stroke-width="1.3" stroke-linecap="square"/>
<line x1="239.5" y1="458.5" x2="252.5" y2="458.5" stroke="#3150ae" stroke-width="1.3" stroke-linecap="square"/>
<line x1="252.5" y1="442.5" x2="252.5" y2="474.5" stroke="#3150ae" stroke-width="1.3" stroke-linecap="square"/>
<line x1="252.5" y1="442.5" x2="271.5" y2="442.5" stroke="#3150ae" stroke-width="1.3" stroke-linecap="square"/>
<line x1="271.5" y1="439.5" x2="271.5" y2="447.5" stroke="#3150ae" stroke-width="1.3" stroke-linecap="square"/>
<line x1="271.5" y1="439.5" x2="280.5" y2="439.5" stroke="#3150ae" stroke-width="1.3" stroke-linecap="square"/>
<line x1="280.5" y1="440.5" x2="400.5" y2="440.5" stroke="#3150ae" stroke-width="1.3" stroke-linecap="square"/>
<line x1="280.5" y1="436.5" x2="387.5" y2="436.5" stroke="#3150ae" stroke-width="1.3" stroke-linecap="square"/>
<line x1="271.5" y1="447.5" x2="294.5" y2="447.5" stroke="#3150ae" stroke-width="1.3" stroke-linecap="square"/>
<line x1="252.5" y1="474.5" x2="282.5" y2="474.5" stroke="#3150ae" stroke-width="1.3" stroke-linecap="square"/>
<line x1="282.5" y1="458.5" x2="282.5" y2="490.5" stroke="#3150ae" stroke-width="1.3" stroke-linecap="square"/>
<line x1="282.5" y1="458.5" x2="300.5" y2="458.5" stroke="#3150ae" stroke-width="1.3" stroke-linecap="square"/>
<line x1="339.5" y1="418.5" x2="339.5" y2="421.5" stroke="#3150ae" stroke-width="1.3" stroke-linecap="square"/>
<line x1="339.5" y1="421.5" x2="393.5" y2="421.5" stroke="#3150ae" stroke-width="1.3" stroke-linecap="square"/>
<line x1="393.5" y1="420.5" x2="393.5" y2="423.5" stroke="#3150ae" stroke-width="1.3" stroke-linecap="square"/>
<line x1="393.5" y1="419.5" x2="469.5" y2="419.5" stroke="#3150ae" stroke-width="1.3" stroke-linecap="square"/>
<line x1="401.5" y1="424.5" x2="438.5" y2="424.5" stroke="#3150ae" stroke-width="1.3" stroke-linecap="square"/>
<line x1="421.5" y1="426.5" x2="480.5" y2="426.5" stroke="#3150ae" stroke-width="1.3" stroke-linecap="square"/>
<line x1="437.5" y1="428.5" x2="450.5" y2="428.5" stroke="#3150ae" stroke-width="1.3" stroke-linecap="square"/>
<line x1="450.5" y1="431.5" x2="480.5" y2="431.5" stroke="#3150ae" stroke-width="1.3" stroke-linecap="square"/>
<rect x="323" y="418" width="15" height="2" fill="#3d5fae"/>
<rect x="402" y="421" width="26" height="2" fill="#3d5fae"/>
<rect x="402" y="424" width="19" height="3" fill="#3d5fae"/>
<rect x="438" y="423" width="32" height="8" fill="#3d5fae"/>
<rect x="460" y="430" width="10" height="4" fill="#3d5fae"/>
<rect x="433" y="419" width="5" height="2" fill="#3d5fae"/>
<rect x="290" y="436" width="23" height="2" fill="#3d5fae"/>
<line x1="294.5" y1="446.5" x2="294.5" y2="449.5" stroke="#3150ae" stroke-width="1.3" stroke-linecap="square"/>
<line x1="294.5" y1="446.5" x2="315.5" y2="446.5" stroke="#3150ae" stroke-width="1.3" stroke-linecap="square"/>
<line x1="294.5" y1="449.5" x2="324.5" y2="449.5" stroke="#3150ae" stroke-width="1.3" stroke-linecap="square"/>
<line x1="324.5" y1="449.5" x2="324.5" y2="452.5" stroke="#3150ae" stroke-width="1.3" stroke-linecap="square"/>
<line x1="324.5" y1="452.5" x2="411.5" y2="452.5" stroke="#3150ae" stroke-width="1.3" stroke-linecap="square"/>
<rect x="315" y="446" width="9" height="2" fill="#3d5fae"/>
<rect x="325" y="448" width="10" height="3" fill="#3d5fae"/>
<line x1="431.5" y1="439.5" x2="431.5" y2="442.5" stroke="#3150ae" stroke-width="1.3" stroke-linecap="square"/>
<line x1="400.5" y1="440.5" x2="431.5" y2="440.5" stroke="#3150ae" stroke-width="1.3" stroke-linecap="square"/>
<line x1="431.5" y1="439.5" x2="469.5" y2="439.5" stroke="#3150ae" stroke-width="1.3" stroke-linecap="square"/>
<line x1="431.5" y1="442.5" x2="444.5" y2="442.5" stroke="#3150ae" stroke-width="1.3" stroke-linecap="square"/>
<line x1="444.5" y1="442.5" x2="444.5" y2="444.5" stroke="#3150ae" stroke-width="1.3" stroke-linecap="square"/>
<line x1="444.5" y1="443.5" x2="469.5" y2="443.5" stroke="#3150ae" stroke-width="1.3" stroke-linecap="square"/>
<rect x="444" y="438" width="26" height="3" fill="#3d5fae"/>
<rect x="460" y="442" width="10" height="3" fill="#3d5fae"/>
<line x1="411.5" y1="452.5" x2="411.5" y2="454.5" stroke="#3150ae" stroke-width="1.3" stroke-linecap="square"/>
<line x1="411.5" y1="452.5" x2="434.5" y2="452.5" stroke="#3150ae" stroke-width="1.3" stroke-linecap="square"/>
<line x1="434.5" y1="454.5" x2="480.5" y2="454.5" stroke="#3150ae" stroke-width="1.3" stroke-linecap="square"/>
<line x1="411.5" y1="455.5" x2="480.5" y2="455.5" stroke="#3150ae" stroke-width="1.3" stroke-linecap="square"/>
<rect x="435" y="451" width="35" height="3" fill="#3d5fae"/>
<line x1="292.5" y1="460.5" x2="292.5" y2="478.5" stroke="#3150ae" stroke-width="1.3" stroke-linecap="square"/>
<line x1="292.5" y1="460.5" x2="313.5" y2="460.5" stroke="#3150ae" stroke-width="1.3" stroke-linecap="square"/>
<line x1="300.5" y1="457.5" x2="307.5" y2="457.5" stroke="#3150ae" stroke-width="1.3" stroke-linecap="square"/>
<rect x="308" y="457" width="5" height="5" fill="#3d5fae"/>
<rect x="352" y="463" width="16" height="6" fill="#1c3796"/>
<rect x="443" y="464" width="6" height="2" fill="#3d5fae"/>
<rect x="400" y="468" width="8" height="3" fill="#3d5fae"/>
<rect x="410" y="471" width="7" height="2" fill="#3d5fae"/>
<rect x="434" y="474" width="4" height="2" fill="#3d5fae"/>
<line x1="352.5" y1="464.5" x2="376.5" y2="464.5" stroke="#3150ae" stroke-width="1.3" stroke-linecap="square"/>
<line x1="390.5" y1="465.5" x2="443.5" y2="465.5" stroke="#3150ae" stroke-width="1.3" stroke-linecap="square"/>
<line x1="338.5" y1="466.5" x2="338.5" y2="474.5" stroke="#3150ae" stroke-width="1.3" stroke-linecap="square"/>
<line x1="338.5" y1="466.5" x2="400.5" y2="466.5" stroke="#3150ae" stroke-width="1.3" stroke-linecap="square"/>
<line x1="367.5" y1="468.5" x2="387.5" y2="468.5" stroke="#3150ae" stroke-width="1.3" stroke-linecap="square"/>
<line x1="390.5" y1="469.5" x2="407.5" y2="469.5" stroke="#3150ae" stroke-width="1.3" stroke-linecap="square"/>
<line x1="308.5" y1="470.5" x2="337.5" y2="470.5" stroke="#3150ae" stroke-width="1.3" stroke-linecap="square"/>
<line x1="308.5" y1="470.5" x2="308.5" y2="480.5" stroke="#3150ae" stroke-width="1.3" stroke-linecap="square"/>
<line x1="390.5" y1="472.5" x2="427.5" y2="472.5" stroke="#3150ae" stroke-width="1.3" stroke-linecap="square"/>
<line x1="373.5" y1="472.5" x2="400.5" y2="472.5" stroke="#3150ae" stroke-width="1.3" stroke-linecap="square"/>
<line x1="338.5" y1="474.5" x2="373.5" y2="474.5" stroke="#3150ae" stroke-width="1.3" stroke-linecap="square"/>
<line x1="373.5" y1="472.5" x2="373.5" y2="477.5" stroke="#3150ae" stroke-width="1.3" stroke-linecap="square"/>
<line x1="390.5" y1="475.5" x2="438.5" y2="475.5" stroke="#3150ae" stroke-width="1.3" stroke-linecap="square"/>
<line x1="392.5" y1="476.5" x2="400.5" y2="476.5" stroke="#3150ae" stroke-width="1.3" stroke-linecap="square"/>
<line x1="393.5" y1="477.5" x2="407.5" y2="477.5" stroke="#3150ae" stroke-width="1.3" stroke-linecap="square"/>
<line x1="282.5" y1="474.5" x2="282.5" y2="489.5" stroke="#3150ae" stroke-width="1.3" stroke-linecap="square"/>
<line x1="282.5" y1="489.5" x2="293.5" y2="489.5" stroke="#3150ae" stroke-width="1.3" stroke-linecap="square"/>
<line x1="293.5" y1="462.5" x2="293.5" y2="516.5" stroke="#3150ae" stroke-width="1.3" stroke-linecap="square"/>
<line x1="293.5" y1="516.5" x2="308.5" y2="516.5" stroke="#3150ae" stroke-width="1.3" stroke-linecap="square"/>
<line x1="308.5" y1="470.5" x2="308.5" y2="560.5" stroke="#3150ae" stroke-width="1.3" stroke-linecap="square"/>
<line x1="307.5" y1="482.5" x2="307.5" y2="502.5" stroke="#3150ae" stroke-width="1.3" stroke-linecap="square"/>
<line x1="307.5" y1="482.5" x2="324.5" y2="482.5" stroke="#3150ae" stroke-width="1.3" stroke-linecap="square"/>
<line x1="324.5" y1="481.5" x2="324.5" y2="484.5" stroke="#3150ae" stroke-width="1.3" stroke-linecap="square"/>
<line x1="324.5" y1="481.5" x2="330.5" y2="481.5" stroke="#3150ae" stroke-width="1.3" stroke-linecap="square"/>
<line x1="324.5" y1="484.5" x2="336.5" y2="484.5" stroke="#3150ae" stroke-width="1.3" stroke-linecap="square"/>
<line x1="336.5" y1="483.5" x2="336.5" y2="487.5" stroke="#3150ae" stroke-width="1.3" stroke-linecap="square"/>
<line x1="336.5" y1="483.5" x2="375.5" y2="483.5" stroke="#3150ae" stroke-width="1.3" stroke-linecap="square"/>
<line x1="336.5" y1="487.5" x2="339.5" y2="487.5" stroke="#3150ae" stroke-width="1.3" stroke-linecap="square"/>
<line x1="339.5" y1="486.5" x2="339.5" y2="489.5" stroke="#3150ae" stroke-width="1.3" stroke-linecap="square"/>
<line x1="339.5" y1="486.5" x2="375.5" y2="486.5" stroke="#3150ae" stroke-width="1.3" stroke-linecap="square"/>
<line x1="339.5" y1="489.5" x2="375.5" y2="489.5" stroke="#3150ae" stroke-width="1.3" stroke-linecap="square"/>
<line x1="314.5" y1="494.5" x2="397.5" y2="494.5" stroke="#3150ae" stroke-width="1.3" stroke-linecap="square"/>
<line x1="314.5" y1="494.5" x2="314.5" y2="509.5" stroke="#3150ae" stroke-width="1.3" stroke-linecap="square"/>
<line x1="307.5" y1="501.5" x2="314.5" y2="501.5" stroke="#3150ae" stroke-width="1.3" stroke-linecap="square"/>
<line x1="314.5" y1="509.5" x2="336.5" y2="509.5" stroke="#3150ae" stroke-width="1.3" stroke-linecap="square"/>
<line x1="336.5" y1="507.5" x2="336.5" y2="514.5" stroke="#3150ae" stroke-width="1.3" stroke-linecap="square"/>
<line x1="336.5" y1="507.5" x2="375.5" y2="507.5" stroke="#3150ae" stroke-width="1.3" stroke-linecap="square"/>
<line x1="357.5" y1="511.5" x2="375.5" y2="511.5" stroke="#3150ae" stroke-width="1.3" stroke-linecap="square"/>
<line x1="336.5" y1="514.5" x2="352.5" y2="514.5" stroke="#3150ae" stroke-width="1.3" stroke-linecap="square"/>
<line x1="352.5" y1="515.5" x2="352.5" y2="520.5" stroke="#3150ae" stroke-width="1.3" stroke-linecap="square"/>
<line x1="352.5" y1="515.5" x2="375.5" y2="515.5" stroke="#3150ae" stroke-width="1.3" stroke-linecap="square"/>
<line x1="352.5" y1="520.5" x2="375.5" y2="520.5" stroke="#3150ae" stroke-width="1.3" stroke-linecap="square"/>
<line x1="336.5" y1="531.5" x2="470.5" y2="531.5" stroke="#3150ae" stroke-width="1.3" stroke-linecap="square"/>
<line x1="336.5" y1="531.5" x2="336.5" y2="545.5" stroke="#3150ae" stroke-width="1.3" stroke-linecap="square"/>
<rect x="357" y="506" width="23" height="2" fill="#3d5fae"/>
<rect x="373" y="488" width="7" height="2" fill="#3d5fae"/>
<rect x="376" y="514" width="4" height="2" fill="#3d5fae"/>
<line x1="393.5" y1="475.5" x2="393.5" y2="478.5" stroke="#3150ae" stroke-width="1.3" stroke-linecap="square"/>
<line x1="393.5" y1="476.5" x2="439.5" y2="476.5" stroke="#3150ae" stroke-width="1.3" stroke-linecap="square"/>
<line x1="393.5" y1="478.5" x2="399.5" y2="478.5" stroke="#3150ae" stroke-width="1.3" stroke-linecap="square"/>
<line x1="399.5" y1="477.5" x2="399.5" y2="480.5" stroke="#3150ae" stroke-width="1.3" stroke-linecap="square"/>
<line x1="399.5" y1="477.5" x2="427.5" y2="477.5" stroke="#3150ae" stroke-width="1.3" stroke-linecap="square"/>
<line x1="399.5" y1="480.5" x2="423.5" y2="480.5" stroke="#3150ae" stroke-width="1.3" stroke-linecap="square"/>
<line x1="375.5" y1="485.5" x2="470.5" y2="485.5" stroke="#3150ae" stroke-width="1.3" stroke-linecap="square"/>
<line x1="375.5" y1="487.5" x2="428.5" y2="487.5" stroke="#3150ae" stroke-width="1.3" stroke-linecap="square"/>
<line x1="375.5" y1="489.5" x2="407.5" y2="489.5" stroke="#3150ae" stroke-width="1.3" stroke-linecap="square"/>
<line x1="375.5" y1="493.5" x2="397.5" y2="493.5" stroke="#3150ae" stroke-width="1.3" stroke-linecap="square"/>
<line x1="397.5" y1="492.5" x2="397.5" y2="496.5" stroke="#3150ae" stroke-width="1.3" stroke-linecap="square"/>
<line x1="397.5" y1="492.5" x2="416.5" y2="492.5" stroke="#3150ae" stroke-width="1.3" stroke-linecap="square"/>
<line x1="397.5" y1="496.5" x2="410.5" y2="496.5" stroke="#3150ae" stroke-width="1.3" stroke-linecap="square"/>
<line x1="410.5" y1="496.5" x2="410.5" y2="498.5" stroke="#3150ae" stroke-width="1.3" stroke-linecap="square"/>
<line x1="410.5" y1="498.5" x2="418.5" y2="498.5" stroke="#3150ae" stroke-width="1.3" stroke-linecap="square"/>
<line x1="418.5" y1="496.5" x2="418.5" y2="500.5" stroke="#3150ae" stroke-width="1.3" stroke-linecap="square"/>
<line x1="418.5" y1="496.5" x2="431.5" y2="496.5" stroke="#3150ae" stroke-width="1.3" stroke-linecap="square"/>
<line x1="423.5" y1="499.5" x2="423.5" y2="502.5" stroke="#3150ae" stroke-width="1.3" stroke-linecap="square"/>
<line x1="423.5" y1="499.5" x2="433.5" y2="499.5" stroke="#3150ae" stroke-width="1.3" stroke-linecap="square"/>
<line x1="423.5" y1="503.5" x2="445.5" y2="503.5" stroke="#3150ae" stroke-width="1.3" stroke-linecap="square"/>
<line x1="445.5" y1="501.5" x2="445.5" y2="504.5" stroke="#3150ae" stroke-width="1.3" stroke-linecap="square"/>
<line x1="445.5" y1="501.5" x2="458.5" y2="501.5" stroke="#3150ae" stroke-width="1.3" stroke-linecap="square"/>
<line x1="445.5" y1="504.5" x2="485.5" y2="504.5" stroke="#3150ae" stroke-width="1.3" stroke-linecap="square"/>
<line x1="375.5" y1="506.5" x2="407.5" y2="506.5" stroke="#3150ae" stroke-width="1.3" stroke-linecap="square"/>
<line x1="375.5" y1="508.5" x2="417.5" y2="508.5" stroke="#3150ae" stroke-width="1.3" stroke-linecap="square"/>
<line x1="417.5" y1="510.5" x2="439.5" y2="510.5" stroke="#3150ae" stroke-width="1.3" stroke-linecap="square"/>
<line x1="375.5" y1="512.5" x2="424.5" y2="512.5" stroke="#3150ae" stroke-width="1.3" stroke-linecap="square"/>
<line x1="375.5" y1="515.5" x2="386.5" y2="515.5" stroke="#3150ae" stroke-width="1.3" stroke-linecap="square"/>
<line x1="375.5" y1="516.5" x2="427.5" y2="516.5" stroke="#3150ae" stroke-width="1.3" stroke-linecap="square"/>
<line x1="375.5" y1="521.5" x2="441.5" y2="521.5" stroke="#3150ae" stroke-width="1.3" stroke-linecap="square"/>
<line x1="441.5" y1="519.5" x2="441.5" y2="523.5" stroke="#3150ae" stroke-width="1.3" stroke-linecap="square"/>
<line x1="441.5" y1="519.5" x2="458.5" y2="519.5" stroke="#3150ae" stroke-width="1.3" stroke-linecap="square"/>
<line x1="441.5" y1="523.5" x2="458.5" y2="523.5" stroke="#3150ae" stroke-width="1.3" stroke-linecap="square"/>
<line x1="458.5" y1="521.5" x2="458.5" y2="525.5" stroke="#3150ae" stroke-width="1.3" stroke-linecap="square"/>
<line x1="458.5" y1="521.5" x2="485.5" y2="521.5" stroke="#3150ae" stroke-width="1.3" stroke-linecap="square"/>
<line x1="458.5" y1="525.5" x2="471.5" y2="525.5" stroke="#3150ae" stroke-width="1.3" stroke-linecap="square"/>
<line x1="471.5" y1="523.5" x2="471.5" y2="527.5" stroke="#3150ae" stroke-width="1.3" stroke-linecap="square"/>
<line x1="471.5" y1="523.5" x2="485.5" y2="523.5" stroke="#3150ae" stroke-width="1.3" stroke-linecap="square"/>
<line x1="471.5" y1="527.5" x2="485.5" y2="527.5" stroke="#3150ae" stroke-width="1.3" stroke-linecap="square"/>
<line x1="375.5" y1="531.5" x2="470.5" y2="531.5" stroke="#3150ae" stroke-width="1.3" stroke-linecap="square"/>
<rect x="433" y="475" width="6" height="2" fill="#3d5fae"/>
<rect x="424" y="478" width="4" height="2" fill="#3d5fae"/>
<rect x="440" y="484" width="9" height="3" fill="#3d5fae"/>
<rect x="375" y="488" width="32" height="2" fill="#7f95cf"/>
<rect x="411" y="491" width="6" height="2" fill="#3d5fae"/>
<rect x="431" y="494" width="18" height="3" fill="#3d5fae"/>
<rect x="433" y="497" width="6" height="2" fill="#3d5fae"/>
<rect x="446" y="501" width="12" height="2" fill="#3d5fae"/>
<rect x="456" y="504" width="14" height="2" fill="#3d5fae"/>
<rect x="424" y="510" width="15" height="3" fill="#3d5fae"/>
<rect x="377" y="514" width="10" height="3" fill="#3d5fae"/>
<rect x="403" y="516" width="15" height="2" fill="#3d5fae"/>
<rect x="473" y="522" width="8" height="2" fill="#3d5fae"/>
<rect x="396" y="530" width="11" height="3" fill="#3d5fae"/>
<rect x="392" y="533" width="25" height="2" fill="#3d5fae"/>
<line x1="309.5" y1="530.5" x2="309.5" y2="569.5" stroke="#3150ae" stroke-width="1.3" stroke-linecap="square"/>
<line x1="309.2" y1="530.0" x2="309.2" y2="553.0" stroke="#3150ae" stroke-width="2.2" stroke-linecap="square"/>
<line x1="309.5" y1="535.5" x2="336.5" y2="535.5" stroke="#3150ae" stroke-width="1.3" stroke-linecap="square"/>
<line x1="336.5" y1="531.5" x2="336.5" y2="544.5" stroke="#3150ae" stroke-width="1.3" stroke-linecap="square"/>
<line x1="336.5" y1="531.5" x2="469.5" y2="531.5" stroke="#3150ae" stroke-width="1.3" stroke-linecap="square"/>
<line x1="336.5" y1="535.5" x2="392.5" y2="535.5" stroke="#3150ae" stroke-width="1.3" stroke-linecap="square"/>
<line x1="336.5" y1="544.5" x2="390.5" y2="544.5" stroke="#3150ae" stroke-width="1.3" stroke-linecap="square"/>
<line x1="390.5" y1="542.5" x2="390.5" y2="547.5" stroke="#3150ae" stroke-width="1.3" stroke-linecap="square"/>
<line x1="390.5" y1="542.5" x2="441.5" y2="542.5" stroke="#3150ae" stroke-width="1.3" stroke-linecap="square"/>
<line x1="390.5" y1="547.5" x2="409.5" y2="547.5" stroke="#3150ae" stroke-width="1.3" stroke-linecap="square"/>
<line x1="392.5" y1="533.5" x2="427.5" y2="533.5" stroke="#3150ae" stroke-width="1.3" stroke-linecap="square"/>
<line x1="393.5" y1="533.5" x2="393.5" y2="537.5" stroke="#3150ae" stroke-width="1.3" stroke-linecap="square"/>
<line x1="393.5" y1="535.5" x2="435.5" y2="535.5" stroke="#3150ae" stroke-width="1.3" stroke-linecap="square"/>
<line x1="435.5" y1="535.5" x2="435.5" y2="538.5" stroke="#3150ae" stroke-width="1.3" stroke-linecap="square"/>
<line x1="435.5" y1="536.5" x2="458.5" y2="536.5" stroke="#3150ae" stroke-width="1.3" stroke-linecap="square"/>
<line x1="435.5" y1="538.5" x2="449.5" y2="538.5" stroke="#3150ae" stroke-width="1.3" stroke-linecap="square"/>
<line x1="416.5" y1="541.5" x2="427.5" y2="541.5" stroke="#3150ae" stroke-width="1.3" stroke-linecap="square"/>
<line x1="427.5" y1="543.5" x2="469.5" y2="543.5" stroke="#3150ae" stroke-width="1.3" stroke-linecap="square"/>
<line x1="409.5" y1="547.5" x2="409.5" y2="549.5" stroke="#3150ae" stroke-width="1.3" stroke-linecap="square"/>
<line x1="409.5" y1="547.5" x2="436.5" y2="547.5" stroke="#3150ae" stroke-width="1.3" stroke-linecap="square"/>
<line x1="409.5" y1="549.5" x2="421.5" y2="549.5" stroke="#3150ae" stroke-width="1.3" stroke-linecap="square"/>
<line x1="421.5" y1="548.5" x2="421.5" y2="552.5" stroke="#3150ae" stroke-width="1.3" stroke-linecap="square"/>
<line x1="421.5" y1="548.5" x2="449.5" y2="548.5" stroke="#3150ae" stroke-width="1.3" stroke-linecap="square"/>
<line x1="425.5" y1="550.5" x2="449.5" y2="550.5" stroke="#3150ae" stroke-width="1.3" stroke-linecap="square"/>
<line x1="428.5" y1="552.5" x2="449.5" y2="552.5" stroke="#3150ae" stroke-width="1.3" stroke-linecap="square"/>
<line x1="435.5" y1="554.5" x2="449.5" y2="554.5" stroke="#3150ae" stroke-width="1.3" stroke-linecap="square"/>
<rect x="396" y="530" width="12" height="2" fill="#3d5fae"/>
<rect x="408" y="532" width="9" height="3" fill="#3d5fae"/>
<rect x="444" y="537" width="5" height="3" fill="#3d5fae"/>
<rect x="416" y="540" width="12" height="3" fill="#3d5fae"/>
<rect x="441" y="543" width="29" height="3" fill="#3d5fae"/>
<rect x="433" y="546" width="5" height="9" fill="#3d5fae"/>
<rect x="436" y="553" width="13" height="3" fill="#3d5fae"/>
<line x1="309.5" y1="569.5" x2="317.5" y2="569.5" stroke="#3150ae" stroke-width="1.3" stroke-linecap="square"/>
<line x1="317.5" y1="562.5" x2="317.5" y2="576.5" stroke="#3150ae" stroke-width="1.3" stroke-linecap="square"/>
<line x1="317.5" y1="562.5" x2="325.5" y2="562.5" stroke="#3150ae" stroke-width="1.3" stroke-linecap="square"/>
<line x1="325.5" y1="559.5" x2="325.5" y2="564.5" stroke="#3150ae" stroke-width="1.3" stroke-linecap="square"/>
<line x1="325.5" y1="559.5" x2="336.5" y2="559.5" stroke="#3150ae" stroke-width="1.3" stroke-linecap="square"/>
<line x1="325.5" y1="564.5" x2="331.5" y2="564.5" stroke="#3150ae" stroke-width="1.3" stroke-linecap="square"/>
<line x1="331.5" y1="563.5" x2="331.5" y2="566.5" stroke="#3150ae" stroke-width="1.3" stroke-linecap="square"/>
<line x1="331.5" y1="563.5" x2="438.5" y2="563.5" stroke="#3150ae" stroke-width="1.3" stroke-linecap="square"/>
<line x1="331.5" y1="566.5" x2="340.5" y2="566.5" stroke="#3150ae" stroke-width="1.3" stroke-linecap="square"/>
<line x1="340.5" y1="567.5" x2="469.5" y2="567.5" stroke="#3150ae" stroke-width="1.3" stroke-linecap="square"/>
<line x1="335.5" y1="571.5" x2="400.5" y2="571.5" stroke="#3150ae" stroke-width="1.3" stroke-linecap="square"/>
<line x1="327.5" y1="568.5" x2="327.5" y2="578.5" stroke="#3150ae" stroke-width="1.3" stroke-linecap="square"/>
<line x1="355.5" y1="573.5" x2="400.5" y2="573.5" stroke="#3150ae" stroke-width="1.3" stroke-linecap="square"/>
<line x1="317.5" y1="576.5" x2="327.5" y2="576.5" stroke="#3150ae" stroke-width="1.3" stroke-linecap="square"/>
<line x1="328.5" y1="578.5" x2="375.5" y2="578.5" stroke="#3150ae" stroke-width="1.3" stroke-linecap="square"/>
<line x1="329.5" y1="578.5" x2="329.5" y2="586.5" stroke="#3150ae" stroke-width="1.3" stroke-linecap="square"/>
<line x1="329.5" y1="580.5" x2="337.5" y2="580.5" stroke="#3150ae" stroke-width="1.3" stroke-linecap="square"/>
<line x1="337.5" y1="580.5" x2="337.5" y2="585.5" stroke="#3150ae" stroke-width="1.3" stroke-linecap="square"/>
<line x1="337.5" y1="582.5" x2="400.5" y2="582.5" stroke="#3150ae" stroke-width="1.3" stroke-linecap="square"/>
<line x1="337.5" y1="585.5" x2="346.5" y2="585.5" stroke="#3150ae" stroke-width="1.3" stroke-linecap="square"/>
<line x1="346.5" y1="585.5" x2="346.5" y2="589.5" stroke="#3150ae" stroke-width="1.3" stroke-linecap="square"/>
<line x1="346.5" y1="587.5" x2="362.5" y2="587.5" stroke="#3150ae" stroke-width="1.3" stroke-linecap="square"/>
<line x1="346.5" y1="589.5" x2="363.5" y2="589.5" stroke="#3150ae" stroke-width="1.3" stroke-linecap="square"/>
<line x1="363.5" y1="589.5" x2="363.5" y2="592.5" stroke="#3150ae" stroke-width="1.3" stroke-linecap="square"/>
<line x1="363.5" y1="592.5" x2="391.5" y2="592.5" stroke="#3150ae" stroke-width="1.3" stroke-linecap="square"/>
<line x1="391.5" y1="590.5" x2="391.5" y2="594.5" stroke="#3150ae" stroke-width="1.3" stroke-linecap="square"/>
<line x1="391.5" y1="590.5" x2="419.5" y2="590.5" stroke="#3150ae" stroke-width="1.3" stroke-linecap="square"/>
<line x1="391.5" y1="594.5" x2="469.5" y2="594.5" stroke="#3150ae" stroke-width="1.3" stroke-linecap="square"/>
<line x1="390.5" y1="583.5" x2="407.5" y2="583.5" stroke="#3150ae" stroke-width="1.3" stroke-linecap="square"/>
<rect x="337" y="558" width="7" height="2" fill="#3d5fae"/>
<rect x="344" y="558" width="43" height="5" fill="#3d5fae"/>
<rect x="380" y="563" width="20" height="4" fill="#3d5fae"/>
<rect x="390" y="561" width="28" height="5" fill="#3d5fae"/>
<rect x="350" y="566" width="37" height="5" fill="#3d5fae"/>
<rect x="381" y="573" width="19" height="5" fill="#3d5fae"/>
<rect x="390" y="572" width="38" height="5" fill="#3d5fae"/>
<rect x="418" y="576" width="41" height="2" fill="#3d5fae"/>
<rect x="344" y="580" width="10" height="2" fill="#3d5fae"/>
<rect x="354" y="582" width="46" height="6" fill="#3d5fae"/>
<rect x="390" y="584" width="7" height="2" fill="#3d5fae"/>
<rect x="390" y="587" width="18" height="2" fill="#3d5fae"/>
<rect x="419" y="590" width="19" height="2" fill="#3d5fae"/>
<rect x="354" y="586" width="46" height="1" fill="#ffffff"/>
<line x1="420.5" y1="591.5" x2="420.5" y2="597.5" stroke="#3150ae" stroke-width="1.3" stroke-linecap="square"/>
<line x1="420.5" y1="590.5" x2="470.5" y2="590.5" stroke="#3150ae" stroke-width="1.3" stroke-linecap="square"/>
<line x1="420.5" y1="597.5" x2="429.5" y2="597.5" stroke="#3150ae" stroke-width="1.3" stroke-linecap="square"/>
<line x1="429.5" y1="594.5" x2="429.5" y2="601.5" stroke="#3150ae" stroke-width="1.3" stroke-linecap="square"/>
<line x1="429.5" y1="594.5" x2="456.5" y2="594.5" stroke="#3150ae" stroke-width="1.3" stroke-linecap="square"/>
<line x1="456.5" y1="595.5" x2="470.5" y2="595.5" stroke="#3150ae" stroke-width="1.3" stroke-linecap="square"/>
<line x1="429.5" y1="599.5" x2="431.5" y2="599.5" stroke="#3150ae" stroke-width="1.3" stroke-linecap="square"/>
<line x1="431.5" y1="597.5" x2="431.5" y2="606.5" stroke="#3150ae" stroke-width="1.3" stroke-linecap="square"/>
<line x1="431.5" y1="597.5" x2="460.5" y2="597.5" stroke="#3150ae" stroke-width="1.3" stroke-linecap="square"/>
<line x1="460.5" y1="596.5" x2="460.5" y2="599.5" stroke="#3150ae" stroke-width="1.3" stroke-linecap="square"/>
<line x1="460.5" y1="596.5" x2="474.5" y2="596.5" stroke="#3150ae" stroke-width="1.3" stroke-linecap="square"/>
<line x1="460.5" y1="599.5" x2="474.5" y2="599.5" stroke="#3150ae" stroke-width="1.3" stroke-linecap="square"/>
<line x1="431.5" y1="601.5" x2="448.5" y2="601.5" stroke="#3150ae" stroke-width="1.3" stroke-linecap="square"/>
<line x1="448.5" y1="601.5" x2="448.5" y2="604.5" stroke="#3150ae" stroke-width="1.3" stroke-linecap="square"/>
<line x1="448.5" y1="601.5" x2="458.5" y2="601.5" stroke="#3150ae" stroke-width="1.3" stroke-linecap="square"/>
<line x1="448.5" y1="604.5" x2="453.5" y2="604.5" stroke="#3150ae" stroke-width="1.3" stroke-linecap="square"/>
<line x1="458.5" y1="602.5" x2="480.5" y2="602.5" stroke="#3150ae" stroke-width="1.3" stroke-linecap="square"/>
<line x1="434.5" y1="605.5" x2="453.5" y2="605.5" stroke="#3150ae" stroke-width="1.3" stroke-linecap="square"/>
<line x1="431.5" y1="606.5" x2="433.5" y2="606.5" stroke="#3150ae" stroke-width="1.3" stroke-linecap="square"/>
<line x1="433.5" y1="602.5" x2="433.5" y2="611.5" stroke="#3150ae" stroke-width="1.3" stroke-linecap="square"/>
<line x1="433.5" y1="607.5" x2="438.5" y2="607.5" stroke="#3150ae" stroke-width="1.3" stroke-linecap="square"/>
<line x1="433.5" y1="611.5" x2="443.5" y2="611.5" stroke="#3150ae" stroke-width="1.3" stroke-linecap="square"/>
<line x1="443.5" y1="609.5" x2="443.5" y2="613.5" stroke="#3150ae" stroke-width="1.3" stroke-linecap="square"/>
<line x1="443.5" y1="609.5" x2="500.5" y2="609.5" stroke="#3150ae" stroke-width="1.3" stroke-linecap="square"/>
<line x1="443.5" y1="613.5" x2="470.5" y2="613.5" stroke="#3150ae" stroke-width="1.3" stroke-linecap="square"/>
<rect x="420" y="590" width="18" height="2" fill="#3d5fae"/>
<rect x="456" y="593" width="14" height="3" fill="#3d5fae"/>
<rect x="474" y="597" width="16" height="3" fill="#3d5fae"/>
<rect x="458" y="600" width="12" height="3" fill="#3d5fae"/>
<rect x="454" y="604" width="5" height="3" fill="#3d5fae"/>
<rect x="448" y="609" width="31" height="2" fill="#3d5fae"/>
<rect x="446" y="611" width="24" height="3" fill="#3d5fae"/>
<line x1="34.5" y1="7" x2="34.5" y2="613.8" stroke="#000" stroke-opacity="0.37" stroke-width="1.1"/>
<line x1="86.5" y1="7" x2="86.5" y2="613.8" stroke="#000" stroke-opacity="0.37" stroke-width="1.1"/>
<line x1="137.5" y1="7" x2="137.5" y2="613.8" stroke="#000" stroke-opacity="0.37" stroke-width="1.1"/>
<line x1="189.5" y1="7" x2="189.5" y2="613.8" stroke="#000" stroke-opacity="0.37" stroke-width="1.1"/>
<line x1="241.5" y1="7" x2="241.5" y2="613.8" stroke="#000" stroke-opacity="0.37" stroke-width="1.1"/>
<line x1="293.5" y1="7" x2="293.5" y2="613.8" stroke="#000" stroke-opacity="0.37" stroke-width="1.1"/>
<line x1="345.5" y1="7" x2="345.5" y2="613.8" stroke="#000" stroke-opacity="0.37" stroke-width="1.1"/>
<line x1="397.5" y1="7" x2="397.5" y2="613.8" stroke="#000" stroke-opacity="0.37" stroke-width="1.1"/>
<line x1="449.5" y1="7" x2="449.5" y2="613.8" stroke="#000" stroke-opacity="0.37" stroke-width="1.1"/>
<line x1="501.5" y1="7" x2="501.5" y2="613.8" stroke="#000" stroke-opacity="0.37" stroke-width="1.1"/>
<g style="filter:grayscale(1)">
<text x="11.6" y="27.7" font-family="Liberation Sans" font-size="8.5" font-weight="bold" fill="#000" text-anchor="start" stroke="#000" stroke-width="0.3">1</text>
<text x="84.7" y="8.6" font-family="Liberation Sans" font-size="9.0" font-weight="bold" fill="#000" text-anchor="start" stroke="#000" stroke-width="0.3">0.55</text>
<text x="50.0" y="49.0" font-family="Liberation Sans" font-size="9.0" font-weight="bold" fill="#000" text-anchor="start" stroke="#000" stroke-width="0.3">0.52</text>
<text x="214.7" y="30.3" font-family="Liberation Sans" font-size="9.0" font-weight="bold" fill="#000" text-anchor="start" stroke="#000" stroke-width="0.3">0.73</text>
<text x="306.1" y="45.5" font-family="Liberation Sans" font-size="9.0" font-weight="bold" fill="#000" text-anchor="start" stroke="#000" stroke-width="0.3">0.84</text>
<text x="167.2" y="75.2" font-family="Liberation Sans" font-size="9.0" font-weight="bold" fill="#000" text-anchor="start" stroke="#000" stroke-width="0.3">0.89</text>
<text x="241.9" y="84.4" font-family="Liberation Sans" font-size="9.0" font-weight="bold" fill="#000" text-anchor="start" stroke="#000" stroke-width="0.3">0.8</text>
<text x="144.7" y="210.4" font-family="Liberation Sans" font-size="9.0" font-weight="bold" fill="#000" text-anchor="start" stroke="#000" stroke-width="0.3">0.63</text>
<text x="465.0" y="14.8" font-family="Liberation Serif" font-size="9.2" font-weight="bold" fill="#111" text-anchor="start">GI</text>
<text x="465.0" y="30.2" font-family="Liberation Serif" font-size="9.2" font-weight="bold" fill="#111" text-anchor="start">GII</text>
<text x="465.0" y="43.9" font-family="Liberation Serif" font-size="9.2" font-weight="bold" fill="#111" text-anchor="start">GIII</text>
<text x="484.3" y="54.0" font-family="Liberation Serif" font-size="9.2" font-weight="bold" fill="#111" text-anchor="start">GIV</text>
<text x="352.9" y="70.0" font-family="Liberation Serif" font-size="9.2" font-weight="bold" fill="#111" text-anchor="start">GVa</text>
<text x="426.3" y="92.9" font-family="Liberation Serif" font-size="9.2" font-weight="bold" fill="#111" text-anchor="start">GVb</text>
<text x="476.3" y="110.6" font-family="Liberation Serif" font-size="9.2" font-weight="bold" fill="#111" text-anchor="start">GVc</text>
<text x="518.8" y="223.1" font-family="Liberation Serif" font-size="9.2" font-weight="bold" fill="#111" text-anchor="start">GVd</text>
<text x="552.2" y="194.0" font-family="Liberation Serif" font-size="9.2" font-weight="bold" fill="#111" text-anchor="start">GV</text>
<text x="478.2" y="329.8" font-family="Liberation Serif" font-size="9.2" font-weight="bold" fill="#111" text-anchor="start">GVIa</text>
<text x="503.4" y="358.4" font-family="Liberation Serif" font-size="9.2" font-weight="bold" fill="#111" text-anchor="start">GVIb</text>
<text x="504.1" y="409.2" font-family="Liberation Serif" font-size="9.2" font-weight="bold" fill="#111" text-anchor="start">GVIc</text>
<text x="509.6" y="541.3" font-family="Liberation Serif" font-size="9.2" font-weight="bold" fill="#111" text-anchor="start">GVId</text>
<text x="547.4" y="472.7" font-family="Liberation Serif" font-size="9.2" font-weight="bold" fill="#111" text-anchor="start">GVI</text>
<text x="232.5" y="322.8" font-family="Liberation Sans" font-size="9.0" font-weight="bold" fill="#000" text-anchor="start" stroke="#000" stroke-width="0.3">0.87</text>
<text x="295.7" y="332.7" font-family="Liberation Sans" font-size="9.0" font-weight="bold" fill="#000" text-anchor="start" stroke="#000" stroke-width="0.3">0.77</text>
<text x="256.2" y="349.5" font-family="Liberation Sans" font-size="9.0" font-weight="bold" fill="#000" text-anchor="start" stroke="#000" stroke-width="0.3">0.92</text>
<text x="240.0" y="457.8" font-family="Liberation Sans" font-size="9.0" font-weight="bold" fill="#000" text-anchor="start" stroke="#000" stroke-width="0.3">0.74</text>
<text x="260.8" y="471.9" font-family="Liberation Sans" font-size="9.0" font-weight="bold" fill="#000" text-anchor="start" stroke="#000" stroke-width="0.3">0.23</text>
<text x="283.6" y="195.7" font-family="Liberation Sans" font-size="9.0" font-weight="bold" fill="#000" text-anchor="start" stroke="#000" stroke-width="0.3">0.57</text>
<text x="339.7" y="248.8" font-family="Liberation Sans" font-size="9.0" font-weight="bold" fill="#000" text-anchor="start" stroke="#000" stroke-width="0.3">0.96</text>
<text x="370.0" y="280.2" font-family="Liberation Sans" font-size="9.0" font-weight="bold" fill="#000" text-anchor="start" stroke="#000" stroke-width="0.3">0.58</text>
<text x="311.7" y="108.8" font-family="Liberation Sans" font-size="9.0" font-weight="bold" fill="#000" text-anchor="start" stroke="#000" stroke-width="0.3">0.89</text>
<text x="34.1" y="659.5" font-family="Liberation Sans" font-size="10" font-weight="normal" fill="#111" text-anchor="middle">1970</text>
<text x="86.0" y="659.5" font-family="Liberation Sans" font-size="10" font-weight="normal" fill="#111" text-anchor="middle">1975</text>
<text x="137.9" y="659.5" font-family="Liberation Sans" font-size="10" font-weight="normal" fill="#111" text-anchor="middle">1980</text>
<text x="189.8" y="659.5" font-family="Liberation Sans" font-size="10" font-weight="normal" fill="#111" text-anchor="middle">1985</text>
<text x="241.7" y="659.5" font-family="Liberation Sans" font-size="10" font-weight="normal" fill="#111" text-anchor="middle">1990</text>
<text x="293.6" y="659.5" font-family="Liberation Sans" font-size="10" font-weight="normal" fill="#111" text-anchor="middle">1995</text>
<text x="345.5" y="659.5" font-family="Liberation Sans" font-size="10" font-weight="normal" fill="#111" text-anchor="middle">2000</text>
<text x="397.4" y="659.5" font-family="Liberation Sans" font-size="10" font-weight="normal" fill="#111" text-anchor="middle">2005</text>
<text x="449.3" y="659.5" font-family="Liberation Sans" font-size="10" font-weight="normal" fill="#111" text-anchor="middle">2010</text>
<text x="501.2" y="659.5" font-family="Liberation Sans" font-size="10" font-weight="normal" fill="#111" text-anchor="middle">2015</text>
</g></svg></body></html>
